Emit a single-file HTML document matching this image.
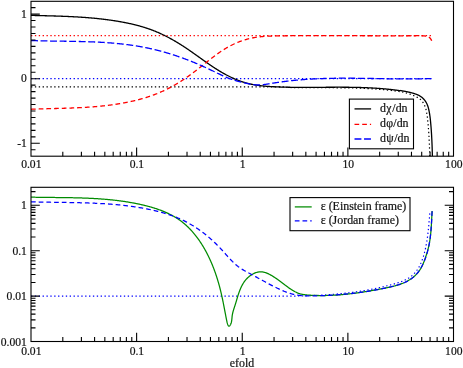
<!DOCTYPE html>
<html><head><meta charset="utf-8"><title>plot</title>
<style>html,body{margin:0;padding:0;background:#fff;}svg{display:block;}text{font-family:"Liberation Serif",serif;}</style></head>
<body>
<svg width="463" height="368" viewBox="0 0 463 368">
<rect width="100%" height="100%" fill="#fff"/>
<defs><clipPath id="ct"><rect x="31.0" y="1.3" width="422.5" height="154.89999999999998"/></clipPath><clipPath id="cb"><rect x="31.0" y="187.3" width="422.5" height="154.2"/></clipPath></defs>
<g clip-path="url(#ct)" fill="none" stroke-linejoin="round">
<path d="M31.0 35.63 H432.3" stroke="#f00" stroke-width="1.2" stroke-dasharray="1.35 2.52"/>
<path d="M31.0 78.70 H432.7" stroke="#00f" stroke-width="1.2" stroke-dasharray="1.35 2.52"/>
<path d="M31.00 86.90 L31.50 86.90 L32.00 86.90 L32.50 86.90 L33.00 86.90 L33.50 86.90 L34.00 86.90 L34.50 86.90 L35.00 86.90 L35.50 86.90 L36.00 86.90 L36.50 86.90 L37.00 86.90 L37.50 86.90 L38.00 86.90 L38.50 86.90 L39.00 86.90 L39.50 86.90 L40.00 86.90 L40.50 86.90 L41.00 86.90 L41.50 86.90 L42.00 86.90 L42.50 86.90 L43.00 86.90 L43.50 86.90 L44.00 86.90 L44.50 86.90 L45.00 86.90 L45.50 86.90 L46.00 86.90 L46.50 86.90 L47.00 86.90 L47.50 86.90 L48.00 86.90 L48.50 86.90 L49.00 86.90 L49.50 86.90 L50.00 86.90 L50.50 86.90 L51.00 86.90 L51.50 86.90 L52.00 86.90 L52.50 86.90 L53.00 86.90 L53.50 86.90 L54.00 86.90 L54.50 86.90 L55.00 86.90 L55.50 86.90 L56.00 86.90 L56.50 86.90 L57.00 86.90 L57.50 86.90 L58.00 86.90 L58.50 86.90 L59.00 86.90 L59.50 86.90 L60.00 86.90 L60.50 86.90 L61.00 86.90 L61.50 86.90 L62.00 86.90 L62.50 86.90 L63.00 86.90 L63.50 86.90 L64.00 86.90 L64.50 86.90 L65.00 86.90 L65.50 86.90 L66.00 86.90 L66.50 86.90 L67.00 86.90 L67.50 86.90 L68.00 86.90 L68.50 86.90 L69.00 86.90 L69.50 86.90 L70.00 86.90 L70.50 86.90 L71.00 86.90 L71.50 86.90 L72.00 86.90 L72.50 86.90 L73.00 86.90 L73.50 86.90 L74.00 86.90 L74.50 86.90 L75.00 86.90 L75.50 86.90 L76.00 86.90 L76.50 86.90 L77.00 86.90 L77.50 86.90 L78.00 86.90 L78.50 86.90 L79.00 86.90 L79.50 86.90 L80.00 86.90 L80.50 86.90 L81.00 86.90 L81.50 86.90 L82.00 86.90 L82.50 86.90 L83.00 86.90 L83.50 86.90 L84.00 86.90 L84.50 86.90 L85.00 86.90 L85.50 86.90 L86.00 86.90 L86.50 86.90 L87.00 86.90 L87.50 86.90 L88.00 86.90 L88.50 86.90 L89.00 86.90 L89.50 86.90 L90.00 86.90 L90.50 86.90 L91.00 86.90 L91.50 86.90 L92.00 86.90 L92.50 86.90 L93.00 86.90 L93.50 86.90 L94.00 86.90 L94.50 86.90 L95.00 86.90 L95.50 86.90 L96.00 86.90 L96.50 86.90 L97.00 86.90 L97.50 86.90 L98.00 86.90 L98.50 86.90 L99.00 86.90 L99.50 86.90 L100.00 86.90 L100.50 86.90 L101.00 86.90 L101.50 86.90 L102.00 86.90 L102.50 86.90 L103.00 86.90 L103.50 86.90 L104.00 86.90 L104.50 86.90 L105.00 86.90 L105.50 86.90 L106.00 86.90 L106.50 86.90 L107.00 86.90 L107.50 86.90 L108.00 86.90 L108.50 86.90 L109.00 86.90 L109.50 86.90 L110.00 86.90 L110.50 86.90 L111.00 86.90 L111.50 86.90 L112.00 86.90 L112.50 86.90 L113.00 86.90 L113.50 86.90 L114.00 86.90 L114.50 86.90 L115.00 86.90 L115.50 86.90 L116.00 86.90 L116.50 86.90 L117.00 86.90 L117.50 86.90 L118.00 86.90 L118.50 86.90 L119.00 86.90 L119.50 86.90 L120.00 86.90 L120.50 86.90 L121.00 86.90 L121.50 86.90 L122.00 86.90 L122.50 86.90 L123.00 86.90 L123.50 86.90 L124.00 86.90 L124.50 86.90 L125.00 86.90 L125.50 86.90 L126.00 86.90 L126.50 86.90 L127.00 86.90 L127.50 86.90 L128.00 86.90 L128.50 86.90 L129.00 86.90 L129.50 86.90 L130.00 86.90 L130.50 86.90 L131.00 86.90 L131.50 86.90 L132.00 86.90 L132.50 86.90 L133.00 86.90 L133.50 86.90 L134.00 86.90 L134.50 86.90 L135.00 86.90 L135.50 86.90 L136.00 86.90 L136.50 86.90 L137.00 86.90 L137.50 86.90 L138.00 86.90 L138.50 86.90 L139.00 86.90 L139.50 86.90 L140.00 86.90 L140.50 86.90 L141.00 86.90 L141.50 86.90 L142.00 86.90 L142.50 86.90 L143.00 86.90 L143.50 86.90 L144.00 86.90 L144.50 86.90 L145.00 86.90 L145.50 86.90 L146.00 86.90 L146.50 86.90 L147.00 86.90 L147.50 86.90 L148.00 86.90 L148.50 86.90 L149.00 86.90 L149.50 86.90 L150.00 86.90 L150.50 86.90 L151.00 86.90 L151.50 86.90 L152.00 86.90 L152.50 86.90 L153.00 86.90 L153.50 86.90 L154.00 86.90 L154.50 86.90 L155.00 86.90 L155.50 86.90 L156.00 86.90 L156.50 86.90 L157.00 86.90 L157.50 86.90 L158.00 86.90 L158.50 86.90 L159.00 86.90 L159.50 86.90 L160.00 86.90 L160.50 86.90 L161.00 86.90 L161.50 86.90 L162.00 86.90 L162.50 86.90 L163.00 86.90 L163.50 86.90 L164.00 86.90 L164.50 86.90 L165.00 86.90 L165.50 86.90 L166.00 86.90 L166.50 86.90 L167.00 86.90 L167.50 86.90 L168.00 86.90 L168.50 86.90 L169.00 86.90 L169.50 86.90 L170.00 86.90 L170.50 86.90 L171.00 86.90 L171.50 86.90 L172.00 86.90 L172.50 86.90 L173.00 86.90 L173.50 86.90 L174.00 86.90 L174.50 86.90 L175.00 86.90 L175.50 86.90 L176.00 86.90 L176.50 86.90 L177.00 86.90 L177.50 86.90 L178.00 86.90 L178.50 86.90 L179.00 86.90 L179.50 86.90 L180.00 86.90 L180.50 86.90 L181.00 86.90 L181.50 86.90 L182.00 86.90 L182.50 86.90 L183.00 86.90 L183.50 86.90 L184.00 86.90 L184.50 86.90 L185.00 86.90 L185.50 86.90 L186.00 86.90 L186.50 86.90 L187.00 86.90 L187.50 86.90 L188.00 86.90 L188.50 86.90 L189.00 86.90 L189.50 86.90 L190.00 86.90 L190.50 86.90 L191.00 86.90 L191.50 86.90 L192.00 86.90 L192.50 86.90 L193.00 86.90 L193.50 86.90 L194.00 86.90 L194.50 86.90 L195.00 86.90 L195.50 86.90 L196.00 86.90 L196.50 86.90 L197.00 86.90 L197.50 86.90 L198.00 86.90 L198.50 86.90 L199.00 86.90 L199.50 86.90 L200.00 86.90 L200.50 86.90 L201.00 86.90 L201.50 86.90 L202.00 86.90 L202.50 86.90 L203.00 86.90 L203.50 86.90 L204.00 86.90 L204.50 86.90 L205.00 86.90 L205.50 86.90 L206.00 86.90 L206.50 86.90 L207.00 86.90 L207.50 86.90 L208.00 86.90 L208.50 86.90 L209.00 86.90 L209.50 86.90 L210.00 86.90 L210.50 86.90 L211.00 86.90 L211.50 86.90 L212.00 86.90 L212.50 86.90 L213.00 86.90 L213.50 86.90 L214.00 86.90 L214.50 86.90 L215.00 86.90 L215.50 86.90 L216.00 86.90 L216.50 86.90 L217.00 86.90 L217.50 86.90 L218.00 86.90 L218.50 86.90 L219.00 86.90 L219.50 86.90 L220.00 86.90 L220.50 86.90 L221.00 86.90 L221.50 86.90 L222.00 86.90 L222.50 86.90 L223.00 86.90 L223.50 86.90 L224.00 86.90 L224.50 86.90 L225.00 86.90 L225.50 86.90 L226.00 86.90 L226.50 86.90 L227.00 86.90 L227.50 86.90 L228.00 86.90 L228.50 86.90 L229.00 86.90 L229.50 86.90 L230.00 86.90 L230.50 86.90 L231.00 86.90 L231.50 86.90 L232.00 86.90 L232.50 86.90 L233.00 86.90 L233.50 86.90 L234.00 86.90 L234.50 86.90 L235.00 86.90 L235.50 86.90 L236.00 86.90 L236.50 86.90 L237.00 86.90 L237.50 86.90 L238.00 86.90 L238.50 86.90 L239.00 86.90 L239.50 86.90 L240.00 86.90 L240.50 86.90 L241.00 86.90 L241.50 86.90 L242.00 86.90 L242.50 86.90 L243.00 86.90 L243.50 86.90 L244.00 86.90 L244.50 86.90 L245.00 86.90 L245.50 86.90 L246.00 86.90 L246.50 86.90 L247.00 86.90 L247.50 86.90 L248.00 86.90 L248.50 86.90 L249.00 86.90 L249.50 86.90 L250.00 86.90 L250.50 86.90 L251.00 86.90 L251.50 86.90 L252.00 86.90 L252.50 86.90 L253.00 86.90 L253.50 86.90 L254.00 86.90 L254.50 86.90 L255.00 86.90 L255.50 86.90 L256.00 86.90 L256.50 86.90 L257.00 86.90 L257.50 86.90 L258.00 86.90 L258.50 86.90 L259.00 86.90 L259.50 86.90 L260.00 86.90 L260.50 86.90 L261.00 86.90 L261.50 86.90 L262.00 86.90 L262.50 86.90 L263.00 86.90 L263.50 86.90 L264.00 86.90 L264.50 86.90 L265.00 86.90 L265.50 86.90 L266.00 86.90 L266.50 86.90 L267.00 86.90 L267.50 86.90 L268.00 86.90 L268.50 86.90 L269.00 86.90 L269.50 86.90 L270.00 86.90 L270.50 86.90 L271.00 86.90 L271.50 86.90 L272.00 86.90 L272.50 86.90 L273.00 86.90 L273.50 86.90 L274.00 86.90 L274.50 86.90 L275.00 86.90 L275.50 86.90 L276.00 86.90 L276.50 86.90 L277.00 86.90 L277.50 86.90 L278.00 86.90 L278.50 86.90 L279.00 86.90 L279.50 86.90 L280.00 86.90 L280.50 86.90 L281.00 86.90 L281.50 86.90 L282.00 86.90 L282.50 86.90 L283.00 86.90 L283.50 86.90 L284.00 86.90 L284.50 86.90 L285.00 87.36 L285.50 87.37 L286.00 87.39 L286.50 87.41 L287.00 87.42 L287.50 87.44 L288.00 87.45 L288.50 87.46 L289.00 87.48 L289.50 87.49 L290.00 87.50 L290.50 87.51 L291.00 87.53 L291.50 87.54 L292.00 87.55 L292.50 87.56 L293.00 87.57 L293.50 87.58 L294.00 87.59 L294.50 87.60 L295.00 87.61 L295.50 87.61 L296.00 87.62 L296.50 87.63 L297.00 87.64 L297.50 87.65 L298.00 87.65 L298.50 87.66 L299.00 87.67 L299.50 87.67 L300.00 87.68 L300.50 87.68 L301.00 87.69 L301.50 87.69 L302.00 87.70 L302.50 87.70 L303.00 87.71 L303.50 87.71 L304.00 87.72 L304.50 87.72 L305.00 87.72 L305.50 87.73 L306.00 87.73 L306.50 87.73 L307.00 87.73 L307.50 87.74 L308.00 87.74 L308.50 87.74 L309.00 87.74 L309.50 87.75 L310.00 87.75 L310.50 87.75 L311.00 87.75 L311.50 87.75 L312.00 87.75 L312.50 87.75 L313.00 87.75 L313.50 87.75 L314.00 87.76 L314.50 87.76 L315.00 87.76 L315.50 87.76 L316.00 87.76 L316.50 87.76 L317.00 87.76 L317.50 87.76 L318.00 87.76 L318.50 87.76 L319.00 87.76 L319.50 87.76 L320.00 87.76 L320.50 87.76 L321.00 87.76 L321.50 87.76 L322.00 87.76 L322.50 87.76 L323.00 87.76 L323.50 87.76 L324.00 87.76 L324.50 87.76 L325.00 87.76 L325.50 87.76 L326.00 87.76 L326.50 87.76 L327.00 87.76 L327.50 87.76 L328.00 87.76 L328.50 87.76 L329.00 87.76 L329.50 87.76 L330.00 87.76 L330.50 87.76 L331.00 87.76 L331.50 87.76 L332.00 87.76 L332.50 87.77 L333.00 87.77 L333.50 87.77 L334.00 87.77 L334.50 87.77 L335.00 87.77 L335.50 87.78 L336.00 87.78 L336.50 87.78 L337.00 87.78 L337.50 87.79 L338.00 87.79 L338.50 87.79 L339.00 87.80 L339.50 87.80 L340.00 87.80 L340.50 87.81 L341.00 87.81 L341.50 87.82 L342.00 87.82 L342.50 87.83 L343.00 87.83 L343.50 87.84 L344.00 87.84 L344.50 87.85 L345.00 87.85 L345.50 87.86 L346.00 87.87 L346.50 87.87 L347.00 87.88 L347.50 87.89 L348.00 87.90 L348.50 87.91 L349.00 87.92 L349.50 87.92 L350.00 87.93 L350.50 87.94 L351.00 87.95 L351.50 87.96 L352.00 87.98 L352.50 87.99 L353.00 88.00 L353.50 88.01 L354.00 88.02 L354.50 88.04 L355.00 88.05 L355.50 88.06 L356.00 88.08 L356.50 88.09 L357.00 88.11 L357.50 88.12 L358.00 88.14 L358.50 88.15 L359.00 88.17 L359.50 88.19 L360.00 88.21 L360.50 88.22 L361.00 88.24 L361.50 88.26 L362.00 88.28 L362.50 88.30 L363.00 88.32 L363.50 88.34 L364.00 88.36 L364.50 88.39 L365.00 88.41 L365.50 88.43 L366.00 88.45 L366.50 88.48 L367.00 88.50 L367.50 88.53 L368.00 88.55 L368.50 88.58 L369.00 88.61 L369.50 88.64 L370.00 88.66 L370.50 88.69 L371.00 88.72 L371.50 88.75 L372.00 88.78 L372.50 88.81 L373.00 88.85 L373.50 88.88 L374.00 88.91 L374.50 88.94 L375.00 88.98 L375.50 89.01 L376.00 89.05 L376.50 89.09 L377.00 89.12 L377.50 89.16 L378.00 89.20 L378.50 89.24 L379.00 89.28 L379.50 89.32 L380.00 89.36 L380.50 89.40 L381.00 89.44 L381.50 89.49 L382.00 89.53 L382.50 89.58 L383.00 89.62 L383.50 89.67 L384.00 89.71 L384.50 89.76 L385.00 89.81 L385.50 89.86 L386.00 89.91 L386.50 89.96 L387.00 90.01 L387.50 90.07 L388.00 90.12 L388.50 90.17 L389.00 90.23 L389.50 90.28 L390.00 90.34 L390.50 90.40 L391.00 90.46 L391.50 90.52 L392.00 90.58 L392.50 90.64 L393.00 90.70 L393.50 90.76 L394.00 90.83 L394.50 90.89 L395.00 90.95 L395.50 91.02 L396.00 91.09 L396.50 91.16 L397.00 91.23 L397.50 91.30 L398.00 91.37 L398.50 91.44 L399.00 91.51 L399.50 91.58 L400.00 91.66 L400.10 91.52 L400.35 91.57 L400.60 91.61 L400.85 91.66 L401.10 91.71 L401.35 91.76 L401.60 91.81 L401.85 91.87 L402.10 91.92 L402.35 91.98 L402.60 92.03 L402.85 92.09 L403.10 92.14 L403.35 92.20 L403.60 92.26 L403.85 92.32 L404.10 92.38 L404.35 92.45 L404.60 92.51 L404.85 92.57 L405.10 92.64 L405.35 92.70 L405.60 92.77 L405.85 92.84 L406.10 92.91 L406.35 92.98 L406.60 93.05 L406.85 93.12 L407.10 93.19 L407.35 93.27 L407.60 93.34 L407.85 93.42 L408.10 93.49 L408.35 93.57 L408.60 93.65 L408.85 93.73 L409.10 93.82 L409.35 93.90 L409.60 93.99 L409.85 94.07 L410.10 94.16 L410.35 94.26 L410.60 94.35 L410.85 94.44 L411.10 94.54 L411.35 94.64 L411.60 94.73 L411.85 94.84 L412.10 94.94 L412.35 95.04 L412.60 95.14 L412.85 95.25 L413.10 95.36 L413.35 95.47 L413.60 95.57 L413.85 95.69 L414.10 95.80 L414.35 95.91 L414.60 96.03 L414.85 96.14 L415.10 96.26 L415.35 96.38 L415.60 96.50 L415.85 96.61 L416.10 96.74 L416.35 96.86 L416.60 96.98 L416.85 97.11 L417.10 97.24 L417.35 97.37 L417.60 97.51 L417.85 97.65 L418.10 97.79 L418.35 97.95 L418.60 98.10 L418.85 98.27 L419.10 98.44 L419.35 98.61 L419.60 98.80 L419.85 98.99 L420.10 99.20 L420.35 99.42 L420.60 99.64 L420.85 99.88 L421.10 100.14 L421.35 100.40 L421.60 100.68 L421.85 100.97 L422.10 101.28 L422.35 101.60 L422.60 101.93 L422.85 102.28 L423.10 102.65 L423.35 103.04 L423.60 103.45 L423.85 103.89 L424.10 104.37 L424.35 104.88 L424.60 105.43 L424.85 106.02 L425.10 106.66 L425.35 107.35 L425.60 108.09 L425.85 108.91 L426.10 109.90 L426.35 111.05 L426.60 112.36 L426.85 113.81 L427.10 115.40 L427.35 117.21 L427.60 119.33 L427.85 121.73 L428.10 124.40 L428.35 127.29 L428.60 130.47 L428.85 134.13 L429.10 138.38 L429.35 143.39 L429.60 150.00 L429.80 156.20" stroke="#000" stroke-width="1.2" stroke-dasharray="1.35 2.52"/>
<path d="M31.00 15.38 L31.50 15.39 L32.00 15.40 L32.50 15.42 L33.00 15.43 L33.50 15.44 L34.00 15.45 L34.50 15.47 L35.00 15.48 L35.50 15.49 L36.00 15.50 L36.50 15.52 L37.00 15.53 L37.50 15.54 L38.00 15.55 L38.50 15.57 L39.00 15.58 L39.50 15.59 L40.00 15.60 L40.50 15.62 L41.00 15.63 L41.50 15.64 L42.00 15.65 L42.50 15.67 L43.00 15.68 L43.50 15.69 L44.00 15.70 L44.50 15.72 L45.00 15.73 L45.50 15.74 L46.00 15.76 L46.50 15.77 L47.00 15.78 L47.50 15.80 L48.00 15.81 L48.50 15.82 L49.00 15.84 L49.50 15.85 L50.00 15.86 L50.50 15.88 L51.00 15.89 L51.50 15.91 L52.00 15.92 L52.50 15.93 L53.00 15.95 L53.50 15.96 L54.00 15.98 L54.50 15.99 L55.00 16.01 L55.50 16.02 L56.00 16.04 L56.50 16.06 L57.00 16.07 L57.50 16.09 L58.00 16.10 L58.50 16.12 L59.00 16.14 L59.50 16.16 L60.00 16.17 L60.50 16.19 L61.00 16.21 L61.50 16.23 L62.00 16.24 L62.50 16.26 L63.00 16.28 L63.50 16.30 L64.00 16.32 L64.50 16.34 L65.00 16.36 L65.50 16.38 L66.00 16.40 L66.50 16.42 L67.00 16.44 L67.50 16.47 L68.00 16.49 L68.50 16.51 L69.00 16.53 L69.50 16.56 L70.00 16.58 L70.50 16.60 L71.00 16.63 L71.50 16.65 L72.00 16.68 L72.50 16.70 L73.00 16.73 L73.50 16.75 L74.00 16.78 L74.50 16.81 L75.00 16.83 L75.50 16.86 L76.00 16.89 L76.50 16.92 L77.00 16.95 L77.50 16.97 L78.00 17.00 L78.50 17.03 L79.00 17.07 L79.50 17.10 L80.00 17.13 L80.50 17.16 L81.00 17.19 L81.50 17.23 L82.00 17.26 L82.50 17.29 L83.00 17.33 L83.50 17.36 L84.00 17.40 L84.50 17.43 L85.00 17.47 L85.50 17.51 L86.00 17.54 L86.50 17.58 L87.00 17.62 L87.50 17.66 L88.00 17.70 L88.50 17.74 L89.00 17.78 L89.50 17.82 L90.00 17.86 L90.50 17.91 L91.00 17.95 L91.50 17.99 L92.00 18.04 L92.50 18.08 L93.00 18.13 L93.50 18.18 L94.00 18.22 L94.50 18.27 L95.00 18.32 L95.50 18.37 L96.00 18.42 L96.50 18.47 L97.00 18.52 L97.50 18.57 L98.00 18.62 L98.50 18.67 L99.00 18.73 L99.50 18.78 L100.00 18.84 L100.50 18.89 L101.00 18.95 L101.50 19.00 L102.00 19.06 L102.50 19.12 L103.00 19.18 L103.50 19.24 L104.00 19.30 L104.50 19.36 L105.00 19.42 L105.50 19.49 L106.00 19.55 L106.50 19.61 L107.00 19.68 L107.50 19.74 L108.00 19.81 L108.50 19.88 L109.00 19.95 L109.50 20.02 L110.00 20.09 L110.50 20.16 L111.00 20.23 L111.50 20.30 L112.00 20.37 L112.50 20.45 L113.00 20.52 L113.50 20.60 L114.00 20.67 L114.50 20.75 L115.00 20.83 L115.50 20.91 L116.00 20.99 L116.50 21.07 L117.00 21.15 L117.50 21.23 L118.00 21.32 L118.50 21.40 L119.00 21.49 L119.50 21.57 L120.00 21.66 L120.50 21.75 L121.00 21.84 L121.50 21.93 L122.00 22.02 L122.50 22.11 L123.00 22.20 L123.50 22.30 L124.00 22.39 L124.50 22.49 L125.00 22.59 L125.50 22.69 L126.00 22.79 L126.50 22.89 L127.00 22.99 L127.50 23.09 L128.00 23.20 L128.50 23.30 L129.00 23.41 L129.50 23.52 L130.00 23.63 L130.50 23.74 L131.00 23.85 L131.50 23.96 L132.00 24.08 L132.50 24.19 L133.00 24.31 L133.50 24.43 L134.00 24.55 L134.50 24.67 L135.00 24.80 L135.50 24.92 L136.00 25.05 L136.50 25.18 L137.00 25.31 L137.50 25.44 L138.00 25.57 L138.50 25.71 L139.00 25.84 L139.50 25.98 L140.00 26.12 L140.50 26.26 L141.00 26.41 L141.50 26.55 L142.00 26.70 L142.50 26.85 L143.00 27.00 L143.50 27.15 L144.00 27.30 L144.50 27.46 L145.00 27.62 L145.50 27.78 L146.00 27.94 L146.50 28.10 L147.00 28.27 L147.50 28.43 L148.00 28.60 L148.50 28.78 L149.00 28.95 L149.50 29.13 L150.00 29.30 L150.50 29.48 L151.00 29.67 L151.50 29.85 L152.00 30.04 L152.50 30.23 L153.00 30.42 L153.50 30.61 L154.00 30.81 L154.50 31.00 L155.00 31.20 L155.50 31.41 L156.00 31.61 L156.50 31.82 L157.00 32.03 L157.50 32.24 L158.00 32.45 L158.50 32.67 L159.00 32.89 L159.50 33.11 L160.00 33.33 L160.50 33.56 L161.00 33.79 L161.50 34.02 L162.00 34.26 L162.50 34.49 L163.00 34.73 L163.50 34.97 L164.00 35.21 L164.50 35.46 L165.00 35.71 L165.50 35.96 L166.00 36.21 L166.50 36.47 L167.00 36.72 L167.50 36.98 L168.00 37.25 L168.50 37.51 L169.00 37.78 L169.50 38.04 L170.00 38.31 L170.50 38.59 L171.00 38.86 L171.50 39.14 L172.00 39.42 L172.50 39.70 L173.00 39.98 L173.50 40.27 L174.00 40.56 L174.50 40.85 L175.00 41.14 L175.50 41.43 L176.00 41.73 L176.50 42.03 L177.00 42.33 L177.50 42.63 L178.00 42.93 L178.50 43.24 L179.00 43.54 L179.50 43.85 L180.00 44.16 L180.50 44.48 L181.00 44.79 L181.50 45.11 L182.00 45.43 L182.50 45.75 L183.00 46.07 L183.50 46.40 L184.00 46.72 L184.50 47.05 L185.00 47.38 L185.50 47.71 L186.00 48.04 L186.50 48.38 L187.00 48.71 L187.50 49.05 L188.00 49.39 L188.50 49.73 L189.00 50.07 L189.50 50.42 L190.00 50.76 L190.50 51.11 L191.00 51.45 L191.50 51.80 L192.00 52.15 L192.50 52.50 L193.00 52.85 L193.50 53.20 L194.00 53.55 L194.50 53.91 L195.00 54.26 L195.50 54.62 L196.00 54.97 L196.50 55.33 L197.00 55.68 L197.50 56.04 L198.00 56.40 L198.50 56.75 L199.00 57.11 L199.50 57.47 L200.00 57.83 L200.50 58.18 L201.00 58.54 L201.50 58.90 L202.00 59.25 L202.50 59.61 L203.00 59.97 L203.50 60.32 L204.00 60.68 L204.50 61.03 L205.00 61.39 L205.50 61.74 L206.00 62.09 L206.50 62.44 L207.00 62.79 L207.50 63.14 L208.00 63.49 L208.50 63.84 L209.00 64.18 L209.50 64.53 L210.00 64.87 L210.50 65.21 L211.00 65.55 L211.50 65.89 L212.00 66.23 L212.50 66.56 L213.00 66.89 L213.50 67.23 L214.00 67.55 L214.50 67.88 L215.00 68.21 L215.50 68.53 L216.00 68.85 L216.50 69.17 L217.00 69.49 L217.50 69.80 L218.00 70.11 L218.50 70.42 L219.00 70.72 L219.50 71.03 L220.00 71.33 L220.50 71.63 L221.00 71.92 L221.50 72.21 L222.00 72.50 L222.50 72.79 L223.00 73.08 L223.50 73.36 L224.00 73.64 L224.50 73.91 L225.00 74.19 L225.50 74.46 L226.00 74.73 L226.50 74.99 L227.00 75.25 L227.50 75.51 L228.00 75.77 L228.50 76.02 L229.00 76.27 L229.50 76.52 L230.00 76.77 L230.50 77.01 L231.00 77.25 L231.50 77.48 L232.00 77.72 L232.50 77.95 L233.00 78.17 L233.50 78.40 L234.00 78.62 L234.50 78.83 L235.00 79.05 L235.50 79.26 L236.00 79.47 L236.50 79.67 L237.00 79.87 L237.50 80.07 L238.00 80.26 L238.50 80.46 L239.00 80.64 L239.50 80.83 L240.00 81.01 L240.50 81.19 L241.00 81.36 L241.50 81.53 L242.00 81.70 L242.50 81.87 L243.00 82.03 L243.50 82.18 L244.00 82.34 L244.50 82.49 L245.00 82.64 L245.50 82.78 L246.00 82.92 L246.50 83.06 L247.00 83.19 L247.50 83.32 L248.00 83.45 L248.50 83.57 L249.00 83.69 L249.50 83.81 L250.00 83.92 L250.50 84.03 L251.00 84.14 L251.50 84.25 L252.00 84.35 L252.50 84.45 L253.00 84.54 L253.50 84.64 L254.00 84.73 L254.50 84.82 L255.00 84.90 L255.50 84.99 L256.00 85.07 L256.50 85.15 L257.00 85.22 L257.50 85.30 L258.00 85.37 L258.50 85.44 L259.00 85.50 L259.50 85.57 L260.00 85.63 L260.50 85.69 L261.00 85.75 L261.50 85.81 L262.00 85.86 L262.50 85.92 L263.00 85.97 L263.50 86.02 L264.00 86.07 L264.50 86.11 L265.00 86.16 L265.50 86.20 L266.00 86.24 L266.50 86.28 L267.00 86.32 L267.50 86.36 L268.00 86.40 L268.50 86.43 L269.00 86.46 L269.50 86.50 L270.00 86.53 L270.50 86.56 L271.00 86.59 L271.50 86.62 L272.00 86.65 L272.50 86.67 L273.00 86.70 L273.50 86.73 L274.00 86.75 L274.50 86.77 L275.00 86.80 L275.50 86.82 L276.00 86.84 L276.50 86.87 L277.00 86.89 L277.50 86.91 L278.00 86.93 L278.50 86.95 L279.00 86.97 L279.50 86.99 L280.00 87.00 L280.50 87.02 L281.00 87.04 L281.50 87.05 L282.00 87.07 L282.50 87.09 L283.00 87.10 L283.50 87.12 L284.00 87.13 L284.50 87.14 L285.00 87.16 L285.50 87.17 L286.00 87.18 L286.50 87.20 L287.00 87.21 L287.50 87.22 L288.00 87.23 L288.50 87.24 L289.00 87.25 L289.50 87.26 L290.00 87.27 L290.50 87.28 L291.00 87.28 L291.50 87.29 L292.00 87.30 L292.50 87.31 L293.00 87.31 L293.50 87.32 L294.00 87.33 L294.50 87.33 L295.00 87.34 L295.50 87.34 L296.00 87.35 L296.50 87.35 L297.00 87.36 L297.50 87.36 L298.00 87.36 L298.50 87.37 L299.00 87.37 L299.50 87.37 L300.00 87.37 L300.50 87.38 L301.00 87.38 L301.50 87.38 L302.00 87.38 L302.50 87.38 L303.00 87.38 L303.50 87.38 L304.00 87.38 L304.50 87.38 L305.00 87.38 L305.50 87.38 L306.00 87.38 L306.50 87.38 L307.00 87.38 L307.50 87.38 L308.00 87.38 L308.50 87.38 L309.00 87.38 L309.50 87.37 L310.00 87.37 L310.50 87.37 L311.00 87.37 L311.50 87.37 L312.00 87.36 L312.50 87.36 L313.00 87.36 L313.50 87.36 L314.00 87.35 L314.50 87.35 L315.00 87.35 L315.50 87.34 L316.00 87.34 L316.50 87.34 L317.00 87.34 L317.50 87.33 L318.00 87.33 L318.50 87.33 L319.00 87.32 L319.50 87.32 L320.00 87.31 L320.50 87.31 L321.00 87.31 L321.50 87.30 L322.00 87.30 L322.50 87.30 L323.00 87.29 L323.50 87.29 L324.00 87.29 L324.50 87.28 L325.00 87.28 L325.50 87.28 L326.00 87.27 L326.50 87.27 L327.00 87.27 L327.50 87.26 L328.00 87.26 L328.50 87.26 L329.00 87.25 L329.50 87.25 L330.00 87.25 L330.50 87.24 L331.00 87.24 L331.50 87.24 L332.00 87.24 L332.50 87.23 L333.00 87.23 L333.50 87.23 L334.00 87.23 L334.50 87.23 L335.00 87.23 L335.50 87.22 L336.00 87.22 L336.50 87.22 L337.00 87.22 L337.50 87.22 L338.00 87.22 L338.50 87.22 L339.00 87.22 L339.50 87.22 L340.00 87.22 L340.50 87.22 L341.00 87.22 L341.50 87.22 L342.00 87.22 L342.50 87.23 L343.00 87.23 L343.50 87.23 L344.00 87.23 L344.50 87.23 L345.00 87.24 L345.50 87.24 L346.00 87.24 L346.50 87.25 L347.00 87.25 L347.50 87.26 L348.00 87.26 L348.50 87.27 L349.00 87.27 L349.50 87.28 L350.00 87.28 L350.50 87.29 L351.00 87.30 L351.50 87.30 L352.00 87.31 L352.50 87.32 L353.00 87.33 L353.50 87.33 L354.00 87.34 L354.50 87.35 L355.00 87.36 L355.50 87.37 L356.00 87.38 L356.50 87.39 L357.00 87.41 L357.50 87.42 L358.00 87.43 L358.50 87.44 L359.00 87.46 L359.50 87.47 L360.00 87.48 L360.50 87.50 L361.00 87.51 L361.50 87.53 L362.00 87.54 L362.50 87.56 L363.00 87.58 L363.50 87.60 L364.00 87.61 L364.50 87.63 L365.00 87.65 L365.50 87.67 L366.00 87.69 L366.50 87.71 L367.00 87.73 L367.50 87.75 L368.00 87.78 L368.50 87.80 L369.00 87.82 L369.50 87.85 L370.00 87.87 L370.50 87.90 L371.00 87.92 L371.50 87.95 L372.00 87.98 L372.50 88.00 L373.00 88.03 L373.50 88.06 L374.00 88.09 L374.50 88.12 L375.00 88.15 L375.50 88.18 L376.00 88.22 L376.50 88.25 L377.00 88.28 L377.50 88.32 L378.00 88.35 L378.50 88.39 L379.00 88.42 L379.50 88.46 L380.00 88.50 L380.50 88.54 L381.00 88.58 L381.50 88.62 L382.00 88.66 L382.50 88.70 L383.00 88.74 L383.50 88.78 L384.00 88.83 L384.50 88.87 L385.00 88.92 L385.50 88.96 L386.00 89.01 L386.50 89.06 L387.00 89.10 L387.50 89.15 L388.00 89.20 L388.50 89.25 L389.00 89.31 L389.50 89.36 L390.00 89.41 L390.50 89.46 L391.00 89.52 L391.50 89.58 L392.00 89.63 L392.50 89.69 L393.00 89.75 L393.50 89.81 L394.00 89.87 L394.50 89.93 L395.00 89.99 L395.50 90.05 L396.00 90.12 L396.50 90.18 L397.00 90.25 L397.50 90.31 L398.00 90.38 L398.50 90.45 L399.00 90.52 L399.50 90.59 L400.00 90.66 L400.10 90.51 L400.35 90.55 L400.60 90.59 L400.85 90.62 L401.10 90.66 L401.35 90.70 L401.60 90.74 L401.85 90.78 L402.10 90.82 L402.35 90.86 L402.60 90.90 L402.85 90.94 L403.10 90.98 L403.35 91.03 L403.60 91.07 L403.85 91.12 L404.10 91.16 L404.35 91.21 L404.60 91.26 L404.85 91.30 L405.10 91.35 L405.35 91.40 L405.60 91.45 L405.85 91.50 L406.10 91.55 L406.35 91.60 L406.60 91.65 L406.85 91.70 L407.10 91.75 L407.35 91.80 L407.60 91.86 L407.85 91.91 L408.10 91.96 L408.35 92.02 L408.60 92.07 L408.85 92.13 L409.10 92.19 L409.35 92.24 L409.60 92.30 L409.85 92.36 L410.10 92.42 L410.35 92.48 L410.60 92.54 L410.85 92.61 L411.10 92.67 L411.35 92.74 L411.60 92.80 L411.85 92.87 L412.10 92.94 L412.35 93.01 L412.60 93.08 L412.85 93.15 L413.10 93.22 L413.35 93.30 L413.60 93.37 L413.85 93.45 L414.10 93.53 L414.35 93.61 L414.60 93.69 L414.85 93.78 L415.10 93.86 L415.35 93.95 L415.60 94.03 L415.85 94.12 L416.10 94.22 L416.35 94.31 L416.60 94.41 L416.85 94.51 L417.10 94.61 L417.35 94.71 L417.60 94.82 L417.85 94.93 L418.10 95.05 L418.35 95.16 L418.60 95.28 L418.85 95.41 L419.10 95.54 L419.35 95.67 L419.60 95.81 L419.85 95.96 L420.10 96.11 L420.35 96.26 L420.60 96.43 L420.85 96.60 L421.10 96.77 L421.35 96.96 L421.60 97.15 L421.85 97.35 L422.10 97.56 L422.35 97.77 L422.60 98.00 L422.85 98.23 L423.10 98.47 L423.35 98.72 L423.60 98.98 L423.85 99.25 L424.10 99.52 L424.35 99.81 L424.60 100.11 L424.85 100.43 L425.10 100.77 L425.35 101.13 L425.60 101.50 L425.85 101.90 L426.10 102.33 L426.35 102.78 L426.60 103.26 L426.85 103.77 L427.10 104.31 L427.35 104.89 L427.60 105.50 L427.85 106.19 L428.10 106.98 L428.35 107.88 L428.60 108.88 L428.85 110.00 L429.10 111.22 L429.35 112.55 L429.60 113.98 L429.85 115.52 L430.10 117.35 L430.35 119.54 L430.60 122.05 L430.85 124.84 L431.10 127.90 L431.35 131.33 L431.60 135.37 L431.85 140.18 L432.10 146.12 L432.35 154.40 L432.40 156.20" stroke="#000" stroke-width="1.3"/>
<path d="M31.00 109.27 L31.50 109.24 L32.00 109.22 L32.50 109.20 L33.00 109.18 L33.50 109.17 L34.00 109.15 L34.50 109.13 L35.00 109.11 L35.50 109.09 L36.00 109.07 L36.50 109.06 L37.00 109.04 L37.50 109.02 L38.00 109.00 L38.50 108.99 L39.00 108.97 L39.50 108.95 L40.00 108.94 L40.50 108.92 L41.00 108.91 L41.50 108.89 L42.00 108.88 L42.50 108.86 L43.00 108.85 L43.50 108.83 L44.00 108.82 L44.50 108.80 L45.00 108.79 L45.50 108.77 L46.00 108.76 L46.50 108.75 L47.00 108.73 L47.50 108.72 L48.00 108.70 L48.50 108.69 L49.00 108.68 L49.50 108.66 L50.00 108.65 L50.50 108.64 L51.00 108.62 L51.50 108.61 L52.00 108.60 L52.50 108.58 L53.00 108.57 L53.50 108.56 L54.00 108.54 L54.50 108.53 L55.00 108.52 L55.50 108.50 L56.00 108.49 L56.50 108.48 L57.00 108.46 L57.50 108.45 L58.00 108.44 L58.50 108.42 L59.00 108.41 L59.50 108.39 L60.00 108.38 L60.50 108.37 L61.00 108.35 L61.50 108.34 L62.00 108.32 L62.50 108.31 L63.00 108.29 L63.50 108.28 L64.00 108.26 L64.50 108.25 L65.00 108.23 L65.50 108.22 L66.00 108.20 L66.50 108.19 L67.00 108.17 L67.50 108.15 L68.00 108.14 L68.50 108.12 L69.00 108.10 L69.50 108.08 L70.00 108.07 L70.50 108.05 L71.00 108.03 L71.50 108.01 L72.00 107.99 L72.50 107.97 L73.00 107.95 L73.50 107.93 L74.00 107.91 L74.50 107.89 L75.00 107.87 L75.50 107.85 L76.00 107.83 L76.50 107.81 L77.00 107.78 L77.50 107.76 L78.00 107.74 L78.50 107.72 L79.00 107.69 L79.50 107.67 L80.00 107.64 L80.50 107.62 L81.00 107.59 L81.50 107.57 L82.00 107.54 L82.50 107.51 L83.00 107.48 L83.50 107.46 L84.00 107.43 L84.50 107.40 L85.00 107.37 L85.50 107.34 L86.00 107.31 L86.50 107.28 L87.00 107.25 L87.50 107.22 L88.00 107.18 L88.50 107.15 L89.00 107.12 L89.50 107.08 L90.00 107.05 L90.50 107.01 L91.00 106.98 L91.50 106.94 L92.00 106.90 L92.50 106.86 L93.00 106.83 L93.50 106.79 L94.00 106.75 L94.50 106.71 L95.00 106.66 L95.50 106.62 L96.00 106.58 L96.50 106.54 L97.00 106.49 L97.50 106.45 L98.00 106.40 L98.50 106.36 L99.00 106.31 L99.50 106.26 L100.00 106.22 L100.50 106.17 L101.00 106.12 L101.50 106.07 L102.00 106.02 L102.50 105.96 L103.00 105.91 L103.50 105.86 L104.00 105.80 L104.50 105.75 L105.00 105.69 L105.50 105.64 L106.00 105.58 L106.50 105.52 L107.00 105.46 L107.50 105.40 L108.00 105.34 L108.50 105.28 L109.00 105.21 L109.50 105.15 L110.00 105.09 L110.50 105.02 L111.00 104.95 L111.50 104.89 L112.00 104.82 L112.50 104.75 L113.00 104.68 L113.50 104.61 L114.00 104.54 L114.50 104.46 L115.00 104.39 L115.50 104.31 L116.00 104.24 L116.50 104.16 L117.00 104.08 L117.50 104.00 L118.00 103.92 L118.50 103.84 L119.00 103.76 L119.50 103.68 L120.00 103.59 L120.50 103.51 L121.00 103.42 L121.50 103.33 L122.00 103.25 L122.50 103.16 L123.00 103.06 L123.50 102.97 L124.00 102.88 L124.50 102.79 L125.00 102.69 L125.50 102.59 L126.00 102.50 L126.50 102.40 L127.00 102.30 L127.50 102.20 L128.00 102.09 L128.50 101.99 L129.00 101.89 L129.50 101.78 L130.00 101.67 L130.50 101.57 L131.00 101.46 L131.50 101.35 L132.00 101.23 L132.50 101.12 L133.00 101.01 L133.50 100.89 L134.00 100.77 L134.50 100.65 L135.00 100.53 L135.50 100.41 L136.00 100.29 L136.50 100.16 L137.00 100.04 L137.50 99.91 L138.00 99.78 L138.50 99.65 L139.00 99.52 L139.50 99.39 L140.00 99.25 L140.50 99.12 L141.00 98.98 L141.50 98.84 L142.00 98.70 L142.50 98.55 L143.00 98.41 L143.50 98.26 L144.00 98.11 L144.50 97.97 L145.00 97.81 L145.50 97.66 L146.00 97.51 L146.50 97.35 L147.00 97.19 L147.50 97.03 L148.00 96.87 L148.50 96.70 L149.00 96.54 L149.50 96.37 L150.00 96.20 L150.50 96.03 L151.00 95.85 L151.50 95.68 L152.00 95.50 L152.50 95.32 L153.00 95.14 L153.50 94.95 L154.00 94.77 L154.50 94.58 L155.00 94.39 L155.50 94.20 L156.00 94.00 L156.50 93.80 L157.00 93.61 L157.50 93.40 L158.00 93.20 L158.50 93.00 L159.00 92.79 L159.50 92.58 L160.00 92.37 L160.50 92.15 L161.00 91.93 L161.50 91.72 L162.00 91.49 L162.50 91.27 L163.00 91.04 L163.50 90.81 L164.00 90.58 L164.50 90.35 L165.00 90.11 L165.50 89.87 L166.00 89.63 L166.50 89.39 L167.00 89.14 L167.50 88.89 L168.00 88.64 L168.50 88.39 L169.00 88.13 L169.50 87.87 L170.00 87.61 L170.50 87.35 L171.00 87.08 L171.50 86.81 L172.00 86.54 L172.50 86.26 L173.00 85.98 L173.50 85.70 L174.00 85.42 L174.50 85.13 L175.00 84.85 L175.50 84.55 L176.00 84.26 L176.50 83.96 L177.00 83.66 L177.50 83.36 L178.00 83.06 L178.50 82.75 L179.00 82.44 L179.50 82.13 L180.00 81.81 L180.50 81.50 L181.00 81.18 L181.50 80.85 L182.00 80.53 L182.50 80.20 L183.00 79.87 L183.50 79.54 L184.00 79.21 L184.50 78.87 L185.00 78.53 L185.50 78.19 L186.00 77.85 L186.50 77.50 L187.00 77.16 L187.50 76.81 L188.00 76.45 L188.50 76.10 L189.00 75.74 L189.50 75.38 L190.00 75.02 L190.50 74.66 L191.00 74.29 L191.50 73.93 L192.00 73.56 L192.50 73.19 L193.00 72.81 L193.50 72.44 L194.00 72.06 L194.50 71.68 L195.00 71.30 L195.50 70.92 L196.00 70.53 L196.50 70.15 L197.00 69.76 L197.50 69.37 L198.00 68.98 L198.50 68.59 L199.00 68.20 L199.50 67.80 L200.00 67.41 L200.50 67.01 L201.00 66.62 L201.50 66.22 L202.00 65.82 L202.50 65.43 L203.00 65.03 L203.50 64.63 L204.00 64.23 L204.50 63.84 L205.00 63.44 L205.50 63.04 L206.00 62.64 L206.50 62.25 L207.00 61.85 L207.50 61.46 L208.00 61.06 L208.50 60.67 L209.00 60.27 L209.50 59.88 L210.00 59.49 L210.50 59.10 L211.00 58.71 L211.50 58.33 L212.00 57.94 L212.50 57.56 L213.00 57.18 L213.50 56.80 L214.00 56.42 L214.50 56.04 L215.00 55.67 L215.50 55.30 L216.00 54.93 L216.50 54.56 L217.00 54.20 L217.50 53.84 L218.00 53.48 L218.50 53.13 L219.00 52.77 L219.50 52.43 L220.00 52.08 L220.50 51.74 L221.00 51.40 L221.50 51.06 L222.00 50.73 L222.50 50.41 L223.00 50.08 L223.50 49.76 L224.00 49.45 L224.50 49.13 L225.00 48.83 L225.50 48.52 L226.00 48.22 L226.50 47.93 L227.00 47.64 L227.50 47.35 L228.00 47.07 L228.50 46.79 L229.00 46.52 L229.50 46.25 L230.00 45.98 L230.50 45.72 L231.00 45.46 L231.50 45.21 L232.00 44.96 L232.50 44.71 L233.00 44.47 L233.50 44.23 L234.00 44.00 L234.50 43.77 L235.00 43.54 L235.50 43.32 L236.00 43.10 L236.50 42.88 L237.00 42.67 L237.50 42.46 L238.00 42.26 L238.50 42.06 L239.00 41.87 L239.50 41.67 L240.00 41.48 L240.50 41.30 L241.00 41.12 L241.50 40.94 L242.00 40.77 L242.50 40.60 L243.00 40.43 L243.50 40.27 L244.00 40.11 L244.50 39.95 L245.00 39.80 L245.50 39.65 L246.00 39.51 L246.50 39.36 L247.00 39.23 L247.50 39.09 L248.00 38.96 L248.50 38.83 L249.00 38.71 L249.50 38.59 L250.00 38.47 L250.50 38.36 L251.00 38.24 L251.50 38.14 L252.00 38.03 L252.50 37.93 L253.00 37.83 L253.50 37.74 L254.00 37.65 L254.50 37.56 L255.00 37.48 L255.50 37.39 L256.00 37.32 L256.50 37.24 L257.00 37.17 L257.50 37.10 L258.00 37.03 L258.50 36.96 L259.00 36.90 L259.50 36.84 L260.00 36.79 L260.50 36.73 L261.00 36.68 L261.50 36.63 L262.00 36.58 L262.50 36.53 L263.00 36.49 L263.50 36.45 L264.00 36.41 L264.50 36.37 L265.00 36.34 L265.50 36.30 L266.00 36.27 L266.50 36.24 L267.00 36.21 L267.50 36.19 L268.00 36.16 L268.50 36.14 L269.00 36.11 L269.50 36.09 L270.00 36.07 L270.50 36.05 L271.00 36.04 L271.50 36.02 L272.00 36.00 L272.50 35.99 L273.00 35.97 L273.50 35.96 L274.00 35.95 L274.50 35.94 L275.00 35.93 L275.50 35.92 L276.00 35.91 L276.50 35.90 L277.00 35.89 L277.50 35.88 L278.00 35.87 L278.50 35.87 L279.00 35.86 L279.50 35.85 L280.00 35.85 L280.50 35.84 L281.00 35.83 L281.50 35.82 L282.00 35.82 L282.50 35.81 L283.00 35.80 L283.50 35.80 L284.00 35.79 L284.50 35.79 L285.00 35.78 L285.50 35.77 L286.00 35.77 L286.50 35.76 L287.00 35.76 L287.50 35.75 L288.00 35.75 L288.50 35.74 L289.00 35.74 L289.50 35.73 L290.00 35.73 L290.50 35.72 L291.00 35.72 L291.50 35.71 L292.00 35.71 L292.50 35.70 L293.00 35.70 L293.50 35.69 L294.00 35.69 L294.50 35.69 L295.00 35.68 L295.50 35.68 L296.00 35.67 L296.50 35.67 L297.00 35.67 L297.50 35.66 L298.00 35.66 L298.50 35.66 L299.00 35.65 L299.50 35.65 L300.00 35.65 L300.50 35.65 L301.00 35.64 L301.50 35.64 L302.00 35.64 L302.50 35.63 L303.00 35.63 L303.50 35.63 L304.00 35.63 L304.50 35.63 L305.00 35.62 L305.50 35.62 L306.00 35.62 L306.50 35.62 L307.00 35.62 L307.50 35.61 L308.00 35.61 L308.50 35.61 L309.00 35.61 L309.50 35.61 L310.00 35.61 L310.50 35.61 L311.00 35.60 L311.50 35.60 L312.00 35.60 L312.50 35.60 L313.00 35.60 L313.50 35.60 L314.00 35.60 L314.50 35.60 L315.00 35.60 L315.50 35.60 L316.00 35.60 L316.50 35.60 L317.00 35.60 L317.50 35.60 L318.00 35.60 L318.50 35.60 L319.00 35.60 L319.50 35.60 L320.00 35.60 L320.50 35.60 L321.00 35.60 L321.50 35.60 L322.00 35.60 L322.50 35.60 L323.00 35.60 L323.50 35.60 L324.00 35.60 L324.50 35.60 L325.00 35.60 L325.50 35.60 L326.00 35.60 L326.50 35.60 L327.00 35.60 L327.50 35.60 L328.00 35.60 L328.50 35.60 L329.00 35.60 L329.50 35.61 L330.00 35.61 L330.50 35.61 L331.00 35.61 L331.50 35.61 L332.00 35.61 L332.50 35.61 L333.00 35.61 L333.50 35.62 L334.00 35.62 L334.50 35.62 L335.00 35.62 L335.50 35.62 L336.00 35.62 L336.50 35.62 L337.00 35.63 L337.50 35.63 L338.00 35.63 L338.50 35.63 L339.00 35.63 L339.50 35.63 L340.00 35.64 L340.50 35.64 L341.00 35.64 L341.50 35.64 L342.00 35.64 L342.50 35.64 L343.00 35.65 L343.50 35.65 L344.00 35.65 L344.50 35.65 L345.00 35.65 L345.50 35.66 L346.00 35.66 L346.50 35.66 L347.00 35.66 L347.50 35.66 L348.00 35.67 L348.50 35.67 L349.00 35.67 L349.50 35.67 L350.00 35.67 L350.50 35.68 L351.00 35.68 L351.50 35.68 L352.00 35.68 L352.50 35.68 L353.00 35.69 L353.50 35.69 L354.00 35.69 L354.50 35.69 L355.00 35.69 L355.50 35.70 L356.00 35.70 L356.50 35.70 L357.00 35.70 L357.50 35.71 L358.00 35.71 L358.50 35.71 L359.00 35.71 L359.50 35.71 L360.00 35.72 L360.50 35.72 L361.00 35.72 L361.50 35.72 L362.00 35.72 L362.50 35.73 L363.00 35.73 L363.50 35.73 L364.00 35.73 L364.50 35.74 L365.00 35.74 L365.50 35.74 L366.00 35.74 L366.50 35.74 L367.00 35.75 L367.50 35.75 L368.00 35.75 L368.50 35.75 L369.00 35.75 L369.50 35.75 L370.00 35.76 L370.50 35.76 L371.00 35.76 L371.50 35.76 L372.00 35.76 L372.50 35.77 L373.00 35.77 L373.50 35.77 L374.00 35.77 L374.50 35.77 L375.00 35.77 L375.50 35.78 L376.00 35.78 L376.50 35.78 L377.00 35.78 L377.50 35.78 L378.00 35.78 L378.50 35.78 L379.00 35.79 L379.50 35.79 L380.00 35.79 L380.50 35.79 L381.00 35.79 L381.50 35.79 L382.00 35.79 L382.50 35.79 L383.00 35.79 L383.50 35.80 L384.00 35.80 L384.50 35.80 L385.00 35.80 L385.50 35.80 L386.00 35.80 L386.50 35.80 L387.00 35.80 L387.50 35.80 L388.00 35.80 L388.50 35.80 L389.00 35.80 L389.50 35.80 L390.00 35.80 L390.50 35.80 L391.00 35.80 L391.50 35.80 L392.00 35.80 L392.50 35.80 L393.00 35.80 L393.50 35.80 L394.00 35.80 L394.50 35.80 L395.00 35.80 L395.50 35.80 L396.00 35.80 L396.50 35.80 L397.00 35.80 L397.50 35.80 L398.00 35.80 L398.50 35.80 L399.00 35.80 L399.50 35.80 L400.00 35.80 L400.50 35.80 L401.00 35.80 L401.50 35.80 L402.00 35.79 L402.50 35.79 L403.00 35.79 L403.50 35.79 L404.00 35.79 L404.50 35.79 L405.00 35.79 L405.50 35.78 L406.00 35.78 L406.50 35.78 L407.00 35.78 L407.50 35.78 L408.00 35.77 L408.50 35.77 L409.00 35.77 L409.50 35.77 L410.00 35.76 L410.50 35.76 L411.00 35.76 L411.50 35.76 L412.00 35.75 L412.50 35.75 L413.00 35.75 L413.50 35.75 L414.00 35.74 L414.50 35.74 L415.00 35.74 L415.50 35.73 L416.00 35.73 L416.50 35.72 L417.00 35.72 L417.50 35.72 L418.00 35.71 L418.50 35.71 L419.00 35.71 L419.50 35.70 L420.00 35.70 L420.50 35.70 L421.00 35.71 L421.50 35.73 L422.00 35.75 L422.50 35.78 L423.00 35.81 L423.50 35.84 L424.00 35.89 L424.50 35.93 L425.00 35.98 L425.50 36.04 L426.00 36.10 L426.50 36.19 L427.00 36.32 L427.50 36.49 L428.00 36.72 L428.50 36.98 L429.00 37.28 L429.50 37.62 L430.00 38.00 L430.50 38.56 L431.00 39.37 L431.50 40.35 L432.00 41.40" stroke="#f00" stroke-width="1.3" stroke-dasharray="4.7 3"/>
<path d="M31.00 40.54 L31.50 40.56 L32.00 40.58 L32.50 40.59 L33.00 40.61 L33.50 40.63 L34.00 40.64 L34.50 40.66 L35.00 40.68 L35.50 40.69 L36.00 40.71 L36.50 40.72 L37.00 40.73 L37.50 40.75 L38.00 40.76 L38.50 40.78 L39.00 40.79 L39.50 40.80 L40.00 40.81 L40.50 40.83 L41.00 40.84 L41.50 40.85 L42.00 40.86 L42.50 40.87 L43.00 40.88 L43.50 40.89 L44.00 40.91 L44.50 40.92 L45.00 40.93 L45.50 40.94 L46.00 40.95 L46.50 40.95 L47.00 40.96 L47.50 40.97 L48.00 40.98 L48.50 40.99 L49.00 41.00 L49.50 41.01 L50.00 41.02 L50.50 41.03 L51.00 41.03 L51.50 41.04 L52.00 41.05 L52.50 41.06 L53.00 41.07 L53.50 41.07 L54.00 41.08 L54.50 41.09 L55.00 41.10 L55.50 41.10 L56.00 41.11 L56.50 41.12 L57.00 41.12 L57.50 41.13 L58.00 41.14 L58.50 41.15 L59.00 41.15 L59.50 41.16 L60.00 41.17 L60.50 41.17 L61.00 41.18 L61.50 41.19 L62.00 41.19 L62.50 41.20 L63.00 41.21 L63.50 41.21 L64.00 41.22 L64.50 41.23 L65.00 41.24 L65.50 41.24 L66.00 41.25 L66.50 41.26 L67.00 41.27 L67.50 41.27 L68.00 41.28 L68.50 41.29 L69.00 41.30 L69.50 41.30 L70.00 41.31 L70.50 41.32 L71.00 41.33 L71.50 41.34 L72.00 41.34 L72.50 41.35 L73.00 41.36 L73.50 41.37 L74.00 41.38 L74.50 41.39 L75.00 41.40 L75.50 41.41 L76.00 41.42 L76.50 41.43 L77.00 41.44 L77.50 41.45 L78.00 41.46 L78.50 41.47 L79.00 41.48 L79.50 41.49 L80.00 41.51 L80.50 41.52 L81.00 41.53 L81.50 41.54 L82.00 41.55 L82.50 41.57 L83.00 41.58 L83.50 41.59 L84.00 41.61 L84.50 41.62 L85.00 41.64 L85.50 41.65 L86.00 41.67 L86.50 41.68 L87.00 41.70 L87.50 41.71 L88.00 41.73 L88.50 41.75 L89.00 41.76 L89.50 41.78 L90.00 41.80 L90.50 41.82 L91.00 41.84 L91.50 41.85 L92.00 41.87 L92.50 41.89 L93.00 41.91 L93.50 41.93 L94.00 41.96 L94.50 41.98 L95.00 42.00 L95.50 42.02 L96.00 42.04 L96.50 42.07 L97.00 42.09 L97.50 42.12 L98.00 42.14 L98.50 42.16 L99.00 42.19 L99.50 42.22 L100.00 42.24 L100.50 42.27 L101.00 42.30 L101.50 42.33 L102.00 42.35 L102.50 42.38 L103.00 42.41 L103.50 42.44 L104.00 42.47 L104.50 42.51 L105.00 42.54 L105.50 42.57 L106.00 42.60 L106.50 42.64 L107.00 42.67 L107.50 42.71 L108.00 42.74 L108.50 42.78 L109.00 42.81 L109.50 42.85 L110.00 42.89 L110.50 42.93 L111.00 42.97 L111.50 43.01 L112.00 43.05 L112.50 43.09 L113.00 43.13 L113.50 43.17 L114.00 43.22 L114.50 43.26 L115.00 43.31 L115.50 43.35 L116.00 43.40 L116.50 43.44 L117.00 43.49 L117.50 43.54 L118.00 43.59 L118.50 43.64 L119.00 43.69 L119.50 43.74 L120.00 43.79 L120.50 43.84 L121.00 43.90 L121.50 43.95 L122.00 44.01 L122.50 44.06 L123.00 44.12 L123.50 44.17 L124.00 44.23 L124.50 44.29 L125.00 44.35 L125.50 44.41 L126.00 44.47 L126.50 44.54 L127.00 44.60 L127.50 44.66 L128.00 44.73 L128.50 44.79 L129.00 44.86 L129.50 44.93 L130.00 45.00 L130.50 45.06 L131.00 45.13 L131.50 45.21 L132.00 45.28 L132.50 45.35 L133.00 45.42 L133.50 45.50 L134.00 45.57 L134.50 45.65 L135.00 45.73 L135.50 45.81 L136.00 45.89 L136.50 45.97 L137.00 46.05 L137.50 46.13 L138.00 46.21 L138.50 46.30 L139.00 46.38 L139.50 46.47 L140.00 46.56 L140.50 46.65 L141.00 46.74 L141.50 46.83 L142.00 46.92 L142.50 47.01 L143.00 47.10 L143.50 47.20 L144.00 47.29 L144.50 47.39 L145.00 47.49 L145.50 47.59 L146.00 47.69 L146.50 47.79 L147.00 47.89 L147.50 47.99 L148.00 48.10 L148.50 48.20 L149.00 48.31 L149.50 48.42 L150.00 48.53 L150.50 48.64 L151.00 48.75 L151.50 48.86 L152.00 48.97 L152.50 49.09 L153.00 49.20 L153.50 49.32 L154.00 49.44 L154.50 49.56 L155.00 49.68 L155.50 49.80 L156.00 49.92 L156.50 50.05 L157.00 50.17 L157.50 50.30 L158.00 50.43 L158.50 50.55 L159.00 50.68 L159.50 50.81 L160.00 50.94 L160.50 51.08 L161.00 51.21 L161.50 51.35 L162.00 51.48 L162.50 51.62 L163.00 51.76 L163.50 51.90 L164.00 52.04 L164.50 52.18 L165.00 52.32 L165.50 52.47 L166.00 52.61 L166.50 52.76 L167.00 52.90 L167.50 53.05 L168.00 53.20 L168.50 53.35 L169.00 53.50 L169.50 53.66 L170.00 53.81 L170.50 53.97 L171.00 54.12 L171.50 54.28 L172.00 54.44 L172.50 54.60 L173.00 54.76 L173.50 54.92 L174.00 55.08 L174.50 55.24 L175.00 55.41 L175.50 55.57 L176.00 55.74 L176.50 55.91 L177.00 56.08 L177.50 56.25 L178.00 56.42 L178.50 56.59 L179.00 56.77 L179.50 56.94 L180.00 57.12 L180.50 57.29 L181.00 57.47 L181.50 57.65 L182.00 57.83 L182.50 58.01 L183.00 58.19 L183.50 58.37 L184.00 58.56 L184.50 58.74 L185.00 58.93 L185.50 59.12 L186.00 59.31 L186.50 59.50 L187.00 59.69 L187.50 59.88 L188.00 60.07 L188.50 60.26 L189.00 60.46 L189.50 60.65 L190.00 60.85 L190.50 61.05 L191.00 61.25 L191.50 61.45 L192.00 61.65 L192.50 61.85 L193.00 62.05 L193.50 62.26 L194.00 62.46 L194.50 62.67 L195.00 62.88 L195.50 63.09 L196.00 63.30 L196.50 63.51 L197.00 63.72 L197.50 63.93 L198.00 64.14 L198.50 64.36 L199.00 64.57 L199.50 64.79 L200.00 65.01 L200.50 65.23 L201.00 65.45 L201.50 65.67 L202.00 65.89 L202.50 66.11 L203.00 66.34 L203.50 66.56 L204.00 66.79 L204.50 67.01 L205.00 67.24 L205.50 67.47 L206.00 67.70 L206.50 67.93 L207.00 68.16 L207.50 68.40 L208.00 68.63 L208.50 68.87 L209.00 69.10 L209.50 69.34 L210.00 69.58 L210.50 69.82 L211.00 70.06 L211.50 70.30 L212.00 70.54 L212.50 70.78 L213.00 71.03 L213.50 71.27 L214.00 71.52 L214.50 71.76 L215.00 72.01 L215.50 72.25 L216.00 72.49 L216.50 72.74 L217.00 72.98 L217.50 73.23 L218.00 73.47 L218.50 73.71 L219.00 73.95 L219.50 74.19 L220.00 74.43 L220.50 74.67 L221.00 74.91 L221.50 75.14 L222.00 75.37 L222.50 75.60 L223.00 75.83 L223.50 76.06 L224.00 76.28 L224.50 76.51 L225.00 76.73 L225.50 76.94 L226.00 77.16 L226.50 77.37 L227.00 77.58 L227.50 77.79 L228.00 77.99 L228.50 78.19 L229.00 78.38 L229.50 78.57 L230.00 78.76 L230.50 78.95 L231.00 79.13 L231.50 79.30 L232.00 79.48 L232.50 79.64 L233.00 79.81 L233.50 79.97 L234.00 80.13 L234.50 80.28 L235.00 80.44 L235.50 80.58 L236.00 80.73 L236.50 80.87 L237.00 81.01 L237.50 81.15 L238.00 81.29 L238.50 81.42 L239.00 81.55 L239.50 81.68 L240.00 81.81 L240.50 81.93 L241.00 82.06 L241.50 82.18 L242.00 82.30 L242.50 82.42 L243.00 82.54 L243.50 82.66 L244.00 82.78 L244.50 82.89 L245.00 83.01 L245.50 83.12 L246.00 83.24 L246.50 83.35 L247.00 83.46 L247.50 83.57 L248.00 83.68 L248.50 83.79 L249.00 83.89 L249.50 83.99 L250.00 84.09 L250.50 84.19 L251.00 84.28 L251.50 84.36 L252.00 84.45 L252.50 84.52 L253.00 84.60 L253.50 84.66 L254.00 84.72 L254.50 84.78 L255.00 84.83 L255.50 84.87 L256.00 84.91 L256.50 84.94 L257.00 84.96 L257.50 84.98 L258.00 84.98 L258.50 84.98 L259.00 84.97 L259.50 84.96 L260.00 84.94 L260.50 84.91 L261.00 84.88 L261.50 84.84 L262.00 84.80 L262.50 84.75 L263.00 84.69 L263.50 84.64 L264.00 84.58 L264.50 84.51 L265.00 84.44 L265.50 84.37 L266.00 84.30 L266.50 84.22 L267.00 84.14 L267.50 84.06 L268.00 83.98 L268.50 83.90 L269.00 83.81 L269.50 83.73 L270.00 83.64 L270.50 83.56 L271.00 83.48 L271.50 83.39 L272.00 83.31 L272.50 83.23 L273.00 83.15 L273.50 83.07 L274.00 82.99 L274.50 82.91 L275.00 82.83 L275.50 82.75 L276.00 82.68 L276.50 82.60 L277.00 82.53 L277.50 82.45 L278.00 82.38 L278.50 82.31 L279.00 82.24 L279.50 82.16 L280.00 82.09 L280.50 82.02 L281.00 81.96 L281.50 81.89 L282.00 81.82 L282.50 81.75 L283.00 81.69 L283.50 81.62 L284.00 81.56 L284.50 81.49 L285.00 81.43 L285.50 81.37 L286.00 81.31 L286.50 81.25 L287.00 81.19 L287.50 81.13 L288.00 81.07 L288.50 81.01 L289.00 80.95 L289.50 80.90 L290.00 80.84 L290.50 80.79 L291.00 80.73 L291.50 80.68 L292.00 80.62 L292.50 80.57 L293.00 80.52 L293.50 80.47 L294.00 80.42 L294.50 80.37 L295.00 80.32 L295.50 80.27 L296.00 80.22 L296.50 80.17 L297.00 80.13 L297.50 80.08 L298.00 80.04 L298.50 79.99 L299.00 79.95 L299.50 79.91 L300.00 79.86 L300.50 79.82 L301.00 79.78 L301.50 79.74 L302.00 79.70 L302.50 79.66 L303.00 79.62 L303.50 79.58 L304.00 79.54 L304.50 79.51 L305.00 79.47 L305.50 79.43 L306.00 79.40 L306.50 79.36 L307.00 79.33 L307.50 79.30 L308.00 79.26 L308.50 79.23 L309.00 79.20 L309.50 79.17 L310.00 79.14 L310.50 79.11 L311.00 79.08 L311.50 79.05 L312.00 79.02 L312.50 78.99 L313.00 78.97 L313.50 78.94 L314.00 78.91 L314.50 78.89 L315.00 78.86 L315.50 78.84 L316.00 78.82 L316.50 78.79 L317.00 78.77 L317.50 78.75 L318.00 78.73 L318.50 78.70 L319.00 78.68 L319.50 78.66 L320.00 78.64 L320.50 78.62 L321.00 78.61 L321.50 78.59 L322.00 78.57 L322.50 78.55 L323.00 78.54 L323.50 78.52 L324.00 78.50 L324.50 78.49 L325.00 78.47 L325.50 78.46 L326.00 78.45 L326.50 78.43 L327.00 78.42 L327.50 78.41 L328.00 78.39 L328.50 78.38 L329.00 78.37 L329.50 78.36 L330.00 78.35 L330.50 78.34 L331.00 78.33 L331.50 78.32 L332.00 78.31 L332.50 78.30 L333.00 78.29 L333.50 78.29 L334.00 78.28 L334.50 78.27 L335.00 78.27 L335.50 78.26 L336.00 78.25 L336.50 78.25 L337.00 78.24 L337.50 78.24 L338.00 78.23 L338.50 78.23 L339.00 78.23 L339.50 78.22 L340.00 78.22 L340.50 78.22 L341.00 78.21 L341.50 78.21 L342.00 78.21 L342.50 78.21 L343.00 78.21 L343.50 78.21 L344.00 78.21 L344.50 78.21 L345.00 78.21 L345.50 78.21 L346.00 78.21 L346.50 78.21 L347.00 78.21 L347.50 78.21 L348.00 78.21 L348.50 78.21 L349.00 78.21 L349.50 78.22 L350.00 78.22 L350.50 78.22 L351.00 78.22 L351.50 78.23 L352.00 78.23 L352.50 78.23 L353.00 78.24 L353.50 78.24 L354.00 78.25 L354.50 78.25 L355.00 78.26 L355.50 78.26 L356.00 78.27 L356.50 78.27 L357.00 78.28 L357.50 78.28 L358.00 78.29 L358.50 78.29 L359.00 78.30 L359.50 78.31 L360.00 78.31 L360.50 78.32 L361.00 78.32 L361.50 78.33 L362.00 78.34 L362.50 78.35 L363.00 78.35 L363.50 78.36 L364.00 78.37 L364.50 78.37 L365.00 78.38 L365.50 78.39 L366.00 78.40 L366.50 78.41 L367.00 78.41 L367.50 78.42 L368.00 78.43 L368.50 78.44 L369.00 78.45 L369.50 78.45 L370.00 78.46 L370.50 78.47 L371.00 78.48 L371.50 78.49 L372.00 78.50 L372.50 78.50 L373.00 78.51 L373.50 78.52 L374.00 78.53 L374.50 78.54 L375.00 78.55 L375.50 78.56 L376.00 78.57 L376.50 78.57 L377.00 78.58 L377.50 78.59 L378.00 78.60 L378.50 78.61 L379.00 78.62 L379.50 78.63 L380.00 78.64 L380.50 78.64 L381.00 78.65 L381.50 78.66 L382.00 78.67 L382.50 78.68 L383.00 78.69 L383.50 78.69 L384.00 78.70 L384.50 78.71 L385.00 78.72 L385.50 78.73 L386.00 78.74 L386.50 78.74 L387.00 78.75 L387.50 78.76 L388.00 78.77 L388.50 78.77 L389.00 78.78 L389.50 78.79 L390.00 78.80 L390.50 78.80 L391.00 78.81 L391.50 78.82 L392.00 78.82 L392.50 78.83 L393.00 78.84 L393.50 78.84 L394.00 78.85 L394.50 78.85 L395.00 78.86 L395.50 78.87 L396.00 78.87 L396.50 78.88 L397.00 78.88 L397.50 78.89 L398.00 78.89 L398.50 78.90 L399.00 78.90 L399.50 78.90 L400.00 78.91 L400.50 78.91 L401.00 78.91 L401.50 78.92 L402.00 78.92 L402.50 78.92 L403.00 78.93 L403.50 78.93 L404.00 78.93 L404.50 78.93 L405.00 78.93 L405.50 78.94 L406.00 78.94 L406.50 78.94 L407.00 78.94 L407.50 78.94 L408.00 78.94 L408.50 78.94 L409.00 78.94 L409.50 78.94 L410.00 78.94 L410.50 78.93 L411.00 78.93 L411.50 78.93 L412.00 78.93 L412.50 78.93 L413.00 78.92 L413.50 78.92 L414.00 78.92 L414.50 78.91 L415.00 78.91 L415.50 78.90 L416.00 78.90 L416.50 78.89 L417.00 78.89 L417.50 78.88 L418.00 78.87 L418.50 78.87 L419.00 78.86 L419.50 78.85 L420.00 78.84 L420.50 78.84 L421.00 78.83 L421.50 78.82 L422.00 78.81 L422.50 78.80 L423.00 78.79 L423.50 78.78 L424.00 78.77 L424.50 78.75 L425.00 78.74 L425.50 78.73 L426.00 78.72 L426.50 78.70 L427.00 78.69 L427.50 78.68 L428.00 78.66 L428.50 78.65 L429.00 78.63 L429.50 78.61 L430.00 78.60 L430.50 78.58 L431.00 78.56 L431.50 78.55 L432.00 78.53 L432.50 78.51 L432.70 78.50" stroke="#00f" stroke-width="1.3" stroke-dasharray="6.9 2.65"/>
</g>
<path d="M31.00 149.76 h4.50 M31.00 143.30 h8.80 M31.00 136.84 h4.50 M31.00 130.38 h4.50 M31.00 123.92 h4.50 M31.00 117.46 h4.50 M31.00 111.00 h4.50 M31.00 104.54 h4.50 M31.00 98.08 h4.50 M31.00 91.62 h4.50 M31.00 85.16 h4.50 M31.00 78.70 h8.80 M31.00 72.24 h4.50 M31.00 65.78 h4.50 M31.00 59.32 h4.50 M31.00 52.86 h4.50 M31.00 46.40 h4.50 M31.00 39.94 h4.50 M31.00 33.48 h4.50 M31.00 27.02 h4.50 M31.00 20.56 h4.50 M31.00 14.10 h8.80 M31.00 7.64 h4.50 M62.80 156.20 v-4.50 M81.40 156.20 v-4.50 M94.59 156.20 v-4.50 M104.83 156.20 v-4.50 M113.19 156.20 v-4.50 M120.26 156.20 v-4.50 M126.39 156.20 v-4.50 M131.79 156.20 v-4.50 M136.62 156.20 v-8.80 M168.42 156.20 v-4.50 M187.02 156.20 v-4.50 M200.22 156.20 v-4.50 M210.45 156.20 v-4.50 M218.82 156.20 v-4.50 M225.89 156.20 v-4.50 M232.01 156.20 v-4.50 M237.42 156.20 v-4.50 M242.25 156.20 v-8.80 M274.05 156.20 v-4.50 M292.65 156.20 v-4.50 M305.84 156.20 v-4.50 M316.08 156.20 v-4.50 M324.44 156.20 v-4.50 M331.51 156.20 v-4.50 M337.64 156.20 v-4.50 M343.04 156.20 v-4.50 M347.88 156.20 v-8.80 M379.67 156.20 v-4.50 M398.27 156.20 v-4.50 M411.47 156.20 v-4.50 M421.70 156.20 v-4.50 M430.07 156.20 v-4.50 M437.14 156.20 v-4.50 M443.26 156.20 v-4.50 M448.67 156.20 v-4.50 " stroke="#000" stroke-width="1.1" fill="none"/>
<rect x="31.0" y="1.3" width="422.5" height="154.89999999999998" fill="none" stroke="#000" stroke-width="1.1"/>
<g clip-path="url(#cb)" fill="none" stroke-linejoin="round">
<path d="M30.97 296.18 L31.48 296.18 L31.98 296.18 L32.49 296.18 L32.99 296.18 L33.50 296.18 L34.00 296.18 L34.50 296.19 L35.01 296.19 L35.51 296.19 L36.02 296.19 L36.52 296.19 L37.03 296.19 L37.53 296.19 L38.03 296.19 L38.54 296.19 L39.04 296.19 L39.55 296.19 L40.05 296.19 L40.55 296.19 L41.06 296.19 L41.56 296.19 L42.07 296.19 L42.57 296.19 L43.08 296.19 L43.58 296.19 L44.08 296.19 L44.59 296.20 L45.09 296.20 L45.60 296.20 L46.10 296.20 L46.60 296.20 L47.11 296.20 L47.61 296.20 L48.12 296.20 L48.62 296.20 L49.12 296.20 L49.63 296.20 L50.13 296.20 L50.64 296.20 L51.14 296.20 L51.64 296.20 L52.15 296.20 L52.65 296.20 L53.16 296.20 L53.66 296.20 L54.16 296.20 L54.67 296.20 L55.17 296.20 L55.68 296.20 L56.18 296.20 L56.68 296.20 L57.19 296.20 L57.69 296.20 L58.20 296.20 L58.70 296.21 L59.20 296.21 L59.71 296.21 L60.21 296.21 L60.72 296.21 L61.22 296.21 L61.72 296.21 L62.23 296.21 L62.73 296.21 L63.23 296.21 L63.74 296.21 L64.24 296.21 L64.75 296.21 L65.25 296.21 L65.75 296.21 L66.26 296.21 L66.76 296.21 L67.26 296.21 L67.77 296.21 L68.27 296.21 L68.78 296.21 L69.28 296.21 L69.78 296.21 L70.29 296.21 L70.79 296.21 L71.29 296.21 L71.80 296.21 L72.30 296.21 L72.81 296.21 L73.31 296.21 L73.81 296.21 L74.32 296.21 L74.82 296.21 L75.32 296.21 L75.83 296.21 L76.33 296.21 L76.84 296.21 L77.34 296.21 L77.84 296.21 L78.35 296.21 L78.85 296.21 L79.35 296.21 L79.86 296.21 L80.36 296.21 L80.86 296.21 L81.37 296.21 L81.87 296.21 L82.38 296.21 L82.88 296.21 L83.38 296.21 L83.89 296.21 L84.39 296.21 L84.89 296.21 L85.40 296.21 L85.90 296.21 L86.40 296.21 L86.91 296.21 L87.41 296.21 L87.91 296.21 L88.42 296.21 L88.92 296.21 L89.43 296.21 L89.93 296.21 L90.43 296.21 L90.94 296.21 L91.44 296.21 L91.94 296.21 L92.45 296.21 L92.95 296.21 L93.45 296.21 L93.96 296.21 L94.46 296.21 L94.96 296.21 L95.47 296.21 L95.97 296.21 L96.47 296.21 L96.98 296.21 L97.48 296.21 L97.98 296.21 L98.49 296.21 L98.99 296.21 L99.49 296.21 L100.00 296.21 L100.50 296.21 L101.01 296.21 L101.51 296.21 L102.01 296.21 L102.52 296.21 L103.02 296.21 L103.52 296.21 L104.03 296.21 L104.53 296.21 L105.03 296.21 L105.54 296.21 L106.04 296.21 L106.54 296.21 L107.05 296.21 L107.55 296.21 L108.05 296.21 L108.56 296.21 L109.06 296.21 L109.56 296.21 L110.07 296.21 L110.57 296.21 L111.07 296.21 L111.58 296.21 L112.08 296.21 L112.58 296.21 L113.09 296.21 L113.59 296.21 L114.09 296.21 L114.60 296.21 L115.10 296.21 L115.60 296.21 L116.11 296.21 L116.61 296.21 L117.11 296.21 L117.62 296.21 L118.12 296.21 L118.62 296.21 L119.13 296.21 L119.63 296.21 L120.13 296.21 L120.64 296.21 L121.14 296.21 L121.64 296.21 L122.15 296.21 L122.65 296.21 L123.15 296.21 L123.66 296.21 L124.16 296.21 L124.66 296.21 L125.17 296.21 L125.67 296.21 L126.17 296.21 L126.68 296.21 L127.18 296.21 L127.68 296.21 L128.19 296.21 L128.69 296.21 L129.19 296.21 L129.70 296.21 L130.20 296.20 L130.70 296.20 L131.21 296.20 L131.71 296.20 L132.21 296.20 L132.72 296.20 L133.22 296.20 L133.72 296.20 L134.23 296.20 L134.73 296.20 L135.23 296.20 L135.74 296.20 L136.24 296.20 L136.74 296.20 L137.24 296.20 L137.75 296.20 L138.25 296.20 L138.75 296.20 L139.26 296.20 L139.76 296.20 L140.26 296.20 L140.77 296.20 L141.27 296.20 L141.77 296.20 L142.28 296.20 L142.78 296.20 L143.28 296.20 L143.79 296.20 L144.29 296.20 L144.79 296.20 L145.30 296.20 L145.80 296.20 L146.30 296.20 L146.81 296.20 L147.31 296.20 L147.81 296.20 L148.32 296.20 L148.82 296.20 L149.32 296.20 L149.83 296.20 L150.33 296.20 L150.83 296.20 L151.34 296.20 L151.84 296.20 L152.34 296.20 L152.85 296.20 L153.35 296.20 L153.85 296.20 L154.36 296.20 L154.86 296.20 L155.36 296.20 L155.86 296.20 L156.37 296.20 L156.87 296.19 L157.37 296.19 L157.88 296.19 L158.38 296.19 L158.88 296.19 L159.39 296.19 L159.89 296.19 L160.39 296.19 L160.90 296.19 L161.40 296.19 L161.90 296.19 L162.41 296.19 L162.91 296.19 L163.41 296.19 L163.92 296.19 L164.42 296.19 L164.92 296.19 L165.43 296.19 L165.93 296.19 L166.43 296.19 L166.94 296.19 L167.44 296.19 L167.94 296.19 L168.45 296.19 L168.95 296.19 L169.45 296.19 L169.96 296.19 L170.46 296.19 L170.96 296.19 L171.47 296.19 L171.97 296.19 L172.47 296.19 L172.98 296.19 L173.48 296.19 L173.98 296.19 L174.49 296.19 L174.99 296.19 L175.49 296.19 L176.00 296.19 L176.50 296.19 L177.00 296.19 L177.50 296.19 L178.01 296.19 L178.51 296.19 L179.01 296.19 L179.52 296.19 L180.02 296.19 L180.52 296.19 L181.03 296.19 L181.53 296.19 L182.03 296.19 L182.54 296.19 L183.04 296.19 L183.54 296.19 L184.05 296.19 L184.55 296.19 L185.05 296.19 L185.56 296.19 L186.06 296.19 L186.56 296.19 L187.07 296.19 L187.57 296.19 L188.07 296.19 L188.58 296.19 L189.08 296.19 L189.58 296.19 L190.09 296.19 L190.59 296.19 L191.09 296.19 L191.60 296.19 L192.10 296.19 L192.60 296.19 L193.11 296.19 L193.61 296.19 L194.11 296.19 L194.62 296.19 L195.12 296.19 L195.62 296.19 L196.13 296.19 L196.63 296.19 L197.13 296.19 L197.64 296.19 L198.14 296.19 L198.65 296.19 L199.15 296.19 L199.65 296.19 L200.16 296.19 L200.66 296.19 L201.16 296.19 L201.67 296.19 L202.17 296.19 L202.67 296.19 L203.18 296.19 L203.68 296.19 L204.18 296.19 L204.69 296.19 L205.19 296.19 L205.69 296.19 L206.20 296.19 L206.70 296.19 L207.20 296.19 L207.71 296.19 L208.21 296.19 L208.71 296.19 L209.22 296.19 L209.72 296.19 L210.22 296.19 L210.73 296.19 L211.23 296.19 L211.73 296.19 L212.24 296.19 L212.74 296.19 L213.25 296.19 L213.75 296.19 L214.25 296.19 L214.76 296.19 L215.26 296.19 L215.76 296.19 L216.27 296.19 L216.77 296.19 L217.27 296.19 L217.78 296.19 L218.28 296.19 L218.78 296.19 L219.29 296.19 L219.79 296.19 L220.30 296.19 L220.80 296.19 L221.30 296.19 L221.81 296.19 L222.31 296.19 L222.81 296.19 L223.32 296.19 L223.82 296.19 L224.32 296.19 L224.83 296.19 L225.33 296.19 L225.84 296.19 L226.34 296.19 L226.84 296.19 L227.35 296.19 L227.85 296.19 L228.35 296.19 L228.86 296.19 L229.36 296.19 L229.86 296.19 L230.37 296.19 L230.87 296.19 L231.38 296.19 L231.88 296.19 L232.38 296.19 L232.89 296.19 L233.39 296.19 L233.89 296.19 L234.40 296.19 L234.90 296.20 L235.41 296.20 L235.91 296.20 L236.41 296.20 L236.92 296.20 L237.42 296.20 L237.92 296.20 L238.43 296.20 L238.93 296.20 L239.44 296.20 L239.94 296.20 L240.44 296.20 L240.95 296.20 L241.45 296.20 L241.95 296.20 L242.46 296.20 L242.96 296.20 L243.47 296.20 L243.97 296.20 L244.47 296.20 L244.98 296.20 L245.48 296.20 L245.99 296.20 L246.49 296.20 L246.99 296.20 L247.50 296.20 L248.00 296.21 L248.51 296.21 L249.01 296.21 L249.51 296.21 L250.02 296.21 L250.52 296.21 L251.03 296.21 L251.53 296.21 L252.03 296.21 L252.54 296.21 L253.04 296.21 L253.55 296.21 L254.05 296.21 L254.55 296.21 L255.06 296.21 L255.56 296.21 L256.07 296.21 L256.57 296.21 L257.07 296.21 L257.58 296.22 L258.08 296.22 L258.59 296.22 L259.09 296.22 L259.59 296.22 L260.10 296.22 L260.60 296.22 L261.11 296.22 L261.61 296.22 L262.11 296.22 L262.62 296.22 L263.12 296.22 L263.63 296.22 L264.13 296.22 L264.64 296.22 L265.14 296.22 L265.64 296.22 L266.15 296.22 L266.65 296.22 L267.16 296.23 L267.66 296.23 L268.16 296.23 L268.67 296.23 L269.17 296.23 L269.68 296.23 L270.18 296.23 L270.69 296.23 L271.19 296.22 L271.69 296.22 L272.20 296.22 L272.70 296.22 L273.21 296.22 L273.71 296.22 L274.21 296.22 L274.72 296.22 L275.22 296.22 L275.73 296.22 L276.23 296.22 L276.74 296.22 L277.24 296.21 L277.74 296.21 L278.25 296.21 L278.75 296.21 L279.26 296.21 L279.76 296.20 L280.26 296.20 L280.77 296.20 L281.27 296.20 L281.78 296.19 L282.28 296.19 L282.78 296.19 L283.29 296.18 L283.79 296.18 L284.30 296.18 L284.80 296.17 L285.30 296.17 L285.81 296.16 L286.31 296.16 L286.82 296.15 L287.32 296.15 L287.82 296.14 L288.33 296.14 L288.83 296.13 L289.34 296.13 L289.84 296.12 L290.34 296.11 L290.85 296.11 L291.35 296.10 L291.86 296.09 L292.36 296.09 L292.86 296.08 L293.37 296.07 L293.87 296.06 L294.37 296.06 L294.88 296.05 L295.38 296.04 L295.88 296.03 L296.39 296.02 L296.89 296.01 L297.40 296.00 L297.90 295.99 L298.40 295.98 L298.91 295.97 L299.41 295.96 L299.91 295.95 L300.42 295.93 L300.92 295.92 L301.42 295.91 L301.93 295.90 L302.43 295.88 L302.93 295.87 L303.44 295.86 L303.94 295.84 L304.44 295.83 L304.95 295.81 L305.45 295.80 L305.95 295.78 L306.46 295.77 L306.96 295.75 L307.46 295.74 L307.96 295.72 L308.47 295.70 L308.97 295.69 L309.47 295.67 L309.98 295.65 L310.48 295.63 L310.98 295.61 L311.49 295.59 L311.99 295.57 L312.49 295.55 L312.99 295.53 L313.50 295.51 L314.00 295.49 L314.50 295.47 L315.00 295.45 L315.51 295.42 L316.01 295.40 L316.51 295.38 L317.01 295.35 L317.52 295.33 L318.02 295.30 L318.52 295.28 L319.02 295.25 L319.52 295.23 L320.03 295.20 L320.53 295.17 L321.03 295.14 L321.53 295.12 L322.04 295.09 L322.54 295.06 L323.04 295.03 L323.54 295.00 L324.04 294.97 L324.54 294.94 L325.05 294.91 L325.55 294.87 L326.05 294.84 L326.55 294.81 L327.05 294.78 L327.55 294.74 L328.06 294.71 L328.56 294.67 L329.06 294.64 L329.56 294.60 L330.06 294.56 L330.56 294.53 L331.06 294.49 L331.57 294.45 L332.07 294.41 L332.57 294.37 L333.07 294.33 L333.57 294.29 L334.07 294.25 L334.57 294.21 L335.07 294.17 L335.57 294.12 L336.07 294.08 L336.57 294.04 L337.07 293.99 L337.58 293.95 L338.08 293.90 L338.58 293.86 L339.08 293.81 L339.58 293.76 L340.08 293.71 L340.58 293.66 L341.08 293.62 L341.58 293.57 L342.08 293.51 L342.58 293.46 L343.08 293.41 L343.58 293.36 L344.08 293.31 L344.58 293.25 L345.08 293.20 L345.58 293.14 L346.08 293.09 L346.58 293.03 L347.07 292.97 L347.57 292.92 L348.07 292.86 L348.57 292.80 L349.07 292.74 L349.57 292.68 L350.07 292.62 L350.57 292.56 L351.07 292.49 L351.57 292.43 L352.07 292.37 L352.56 292.30 L353.06 292.24 L353.56 292.17 L354.06 292.10 L354.56 292.04 L355.06 291.97 L355.56 291.90 L356.05 291.83 L356.55 291.76 L357.05 291.69 L357.55 291.61 L358.05 291.54 L358.54 291.47 L359.04 291.39 L359.54 291.32 L360.04 291.24 L360.53 291.17 L361.03 291.09 L361.53 291.01 L362.03 290.93 L362.52 290.85 L363.02 290.77 L363.52 290.69 L364.02 290.61 L364.51 290.53 L365.01 290.44 L365.51 290.36 L366.00 290.27 L366.50 290.19 L367.00 290.10 L367.49 290.01 L367.99 289.92 L368.49 289.83 L368.98 289.74 L369.48 289.65 L369.98 289.56 L370.47 289.47 L370.97 289.38 L371.46 289.28 L371.96 289.19 L372.46 289.09 L372.95 288.99 L373.45 288.89 L373.94 288.80 L374.44 288.70 L374.93 288.60 L375.43 288.49 L375.92 288.39 L376.42 288.29 L376.91 288.18 L377.41 288.08 L377.90 287.97 L378.40 287.87 L378.89 287.76 L379.39 287.65 L379.88 287.54 L380.38 287.43 L380.87 287.32 L381.37 287.21 L381.86 287.09 L382.35 286.98 L382.85 286.86 L383.34 286.75 L383.84 286.63 L384.33 286.51 L384.82 286.39 L385.32 286.27 L385.81 286.15 L386.30 286.03 L386.80 285.91 L387.29 285.79 L387.78 285.66 L388.28 285.53 L388.77 285.41 L389.26 285.28 L389.75 285.15 L390.25 285.02 L390.74 284.89 L391.23 284.76 L391.72 284.63 L392.22 284.49 L392.71 284.36 L393.20 284.22 L393.69 284.08 L394.18 283.94 L394.67 283.80 L395.16 283.66 L395.65 283.52 L396.14 283.37 L396.62 283.22 L397.11 283.07 L397.59 282.92 L398.07 282.76 L398.55 282.60 L399.03 282.44 L399.51 282.28 L399.98 282.11 L400.46 281.94 L400.93 281.76 L401.39 281.59 L401.86 281.41 L402.32 281.22 L402.78 281.03 L403.24 280.84 L403.70 280.64 L404.15 280.44 L404.60 280.23 L405.04 280.02 L405.48 279.81 L405.92 279.59 L406.35 279.36 L406.79 279.13 L407.21 278.90 L407.63 278.66 L408.05 278.41 L408.47 278.16 L408.88 277.90 L409.28 277.64 L409.68 277.37 L410.08 277.10 L410.47 276.82 L410.86 276.53 L411.24 276.23 L411.61 275.93 L411.98 275.63 L412.35 275.31 L412.71 274.99 L413.06 274.66 L413.41 274.33 L413.76 273.99 L414.10 273.65 L414.43 273.29 L414.76 272.94 L415.08 272.57 L415.40 272.20 L415.71 271.83 L416.02 271.45 L416.32 271.06 L416.61 270.67 L416.90 270.27 L417.19 269.87 L417.47 269.46 L417.74 269.05 L418.01 268.63 L418.27 268.20 L418.53 267.78 L418.79 267.35 L419.03 266.91 L419.28 266.47 L419.52 266.02 L419.75 265.57 L419.98 265.12 L420.20 264.66 L420.42 264.20 L420.64 263.74 L420.85 263.27 L421.06 262.81 L421.26 262.33 L421.46 261.86 L421.65 261.38 L421.84 260.90 L422.03 260.41 L422.21 259.93 L422.39 259.44 L422.57 258.95 L422.74 258.46 L422.91 257.97 L423.07 257.47 L423.23 256.97 L423.39 256.48 L423.54 255.98 L423.69 255.48 L423.84 254.98 L423.98 254.48 L424.13 253.97 L424.26 253.47 L424.40 252.97 L424.53 252.46 L424.66 251.96 L424.79 251.46 L424.91 250.95 L425.04 250.45 L425.16 249.95 L425.27 249.45 L425.39 248.94 L425.50 248.44 L425.61 247.94 L425.72 247.44 L425.82 246.93 L425.92 246.43 L426.03 245.93 L426.12 245.43 L426.22 244.93 L426.31 244.42 L426.41 243.92 L426.50 243.42 L426.59 242.92 L426.67 242.42 L426.76 241.92 L426.84 241.42 L426.92 240.92 L427.00 240.42 L427.08 239.92 L427.15 239.42 L427.23 238.92 L427.30 238.42 L427.37 237.92 L427.44 237.42 L427.51 236.92 L427.57 236.42 L427.64 235.92 L427.70 235.42 L427.77 234.92 L427.83 234.42 L427.89 233.92 L427.95 233.42 L428.00 232.92 L428.06 232.42 L428.12 231.93 L428.17 231.43 L428.22 230.93 L428.28 230.43 L428.33 229.93 L428.38 229.43 L428.43 228.94 L428.48 228.44 L428.53 227.94 L428.58 227.44 L428.62 226.94 L428.67 226.45 L428.72 225.95 L428.76 225.45 L428.81 224.96 L428.85 224.46 L428.90 223.96 L428.94 223.46 L428.98 222.97 L429.03 222.47 L429.07 221.98 L429.11 221.48 L429.16 220.98 L429.20 220.49 L429.24 219.99 L429.29 219.49 L429.33 219.00 L429.37 218.50 L429.41 218.01 L429.46 217.51 L429.50 217.02 L429.54 216.52 L429.59 216.02 L429.63 215.53 L429.68 215.03 L429.72 214.54 L429.77 214.04 L429.81 213.55 L429.86 213.05 L429.91 212.56 L429.95 212.06 L430.00 211.57 L430.05 211.08" stroke="#00f" stroke-width="1.2" stroke-dasharray="1.35 2.52"/>
<path d="M30.99 197.16 L31.63 197.17 L32.27 197.19 L32.91 197.20 L33.54 197.21 L34.18 197.23 L34.82 197.24 L35.46 197.25 L36.10 197.26 L36.73 197.27 L37.37 197.28 L38.01 197.29 L38.65 197.30 L39.29 197.31 L39.92 197.32 L40.56 197.33 L41.20 197.34 L41.84 197.35 L42.48 197.36 L43.11 197.37 L43.75 197.37 L44.39 197.38 L45.03 197.39 L45.66 197.40 L46.30 197.40 L46.94 197.41 L47.58 197.42 L48.22 197.42 L48.85 197.43 L49.49 197.44 L50.13 197.44 L50.77 197.45 L51.40 197.46 L52.04 197.46 L52.68 197.47 L53.31 197.48 L53.95 197.48 L54.59 197.49 L55.23 197.50 L55.86 197.50 L56.50 197.51 L57.14 197.52 L57.78 197.52 L58.41 197.53 L59.05 197.54 L59.69 197.54 L60.32 197.55 L60.96 197.56 L61.60 197.57 L62.23 197.57 L62.87 197.58 L63.51 197.59 L64.14 197.60 L64.78 197.61 L65.42 197.62 L66.05 197.63 L66.69 197.64 L67.33 197.65 L67.96 197.66 L68.60 197.67 L69.24 197.68 L69.87 197.69 L70.51 197.70 L71.14 197.71 L71.78 197.72 L72.42 197.74 L73.05 197.75 L73.69 197.76 L74.32 197.78 L74.96 197.79 L75.60 197.81 L76.23 197.82 L76.87 197.84 L77.50 197.86 L78.14 197.87 L78.77 197.89 L79.41 197.91 L80.05 197.93 L80.68 197.95 L81.32 197.97 L81.95 197.99 L82.59 198.01 L83.22 198.03 L83.86 198.05 L84.49 198.08 L85.13 198.10 L85.76 198.12 L86.40 198.15 L87.03 198.18 L87.67 198.20 L88.30 198.23 L88.94 198.26 L89.57 198.29 L90.20 198.32 L90.84 198.35 L91.47 198.38 L92.11 198.41 L92.74 198.44 L93.38 198.48 L94.01 198.51 L94.64 198.55 L95.28 198.59 L95.91 198.62 L96.55 198.66 L97.18 198.70 L97.81 198.74 L98.45 198.78 L99.08 198.83 L99.71 198.87 L100.35 198.91 L100.98 198.96 L101.61 199.01 L102.25 199.05 L102.88 199.10 L103.51 199.15 L104.15 199.20 L104.78 199.25 L105.41 199.31 L106.04 199.36 L106.68 199.42 L107.31 199.47 L107.94 199.53 L108.57 199.59 L109.21 199.65 L109.84 199.71 L110.47 199.77 L111.10 199.84 L111.73 199.90 L112.37 199.97 L113.00 200.04 L113.63 200.11 L114.26 200.18 L114.89 200.25 L115.52 200.32 L116.16 200.40 L116.79 200.47 L117.42 200.55 L118.05 200.63 L118.68 200.71 L119.31 200.79 L119.94 200.87 L120.57 200.96 L121.20 201.04 L121.83 201.13 L122.46 201.22 L123.09 201.31 L123.72 201.40 L124.36 201.49 L124.99 201.59 L125.62 201.68 L126.25 201.78 L126.88 201.88 L127.50 201.98 L128.13 202.09 L128.76 202.19 L129.39 202.30 L130.02 202.40 L130.65 202.51 L131.28 202.62 L131.91 202.74 L132.54 202.85 L133.17 202.97 L133.80 203.09 L134.43 203.21 L135.05 203.33 L135.68 203.45 L136.31 203.58 L136.94 203.70 L137.57 203.83 L138.20 203.96 L138.82 204.10 L139.45 204.23 L140.08 204.37 L140.71 204.50 L141.33 204.65 L141.96 204.79 L142.59 204.93 L143.21 205.08 L143.84 205.23 L144.47 205.38 L145.09 205.53 L145.72 205.68 L146.34 205.84 L146.97 206.00 L147.59 206.16 L148.21 206.33 L148.83 206.49 L149.45 206.66 L150.07 206.84 L150.69 207.01 L151.31 207.19 L151.93 207.37 L152.54 207.55 L153.16 207.74 L153.77 207.92 L154.39 208.11 L155.00 208.31 L155.61 208.51 L156.22 208.71 L156.83 208.91 L157.43 209.11 L158.04 209.32 L158.64 209.54 L159.24 209.75 L159.84 209.97 L160.44 210.19 L161.04 210.42 L161.64 210.64 L162.23 210.88 L162.82 211.11 L163.41 211.35 L164.00 211.59 L164.58 211.84 L165.17 212.09 L165.75 212.34 L166.33 212.60 L166.91 212.86 L167.48 213.12 L168.06 213.39 L168.63 213.67 L169.20 213.94 L169.76 214.22 L170.33 214.51 L170.89 214.79 L171.45 215.09 L172.00 215.38 L172.55 215.68 L173.11 215.99 L173.65 216.30 L174.20 216.61 L174.74 216.93 L175.28 217.25 L175.82 217.58 L176.35 217.91 L176.88 218.24 L177.41 218.58 L177.93 218.93 L178.45 219.28 L178.97 219.63 L179.49 219.99 L180.00 220.36 L180.51 220.72 L181.01 221.10 L181.51 221.48 L182.01 221.86 L182.50 222.25 L183.00 222.64 L183.48 223.04 L183.97 223.44 L184.45 223.84 L184.93 224.25 L185.40 224.67 L185.87 225.09 L186.34 225.51 L186.80 225.94 L187.27 226.37 L187.72 226.81 L188.18 227.25 L188.63 227.69 L189.08 228.14 L189.52 228.59 L189.96 229.05 L190.40 229.51 L190.84 229.97 L191.27 230.44 L191.70 230.91 L192.12 231.38 L192.54 231.86 L192.96 232.34 L193.38 232.82 L193.79 233.31 L194.20 233.80 L194.61 234.30 L195.01 234.79 L195.41 235.29 L195.81 235.80 L196.20 236.30 L196.59 236.81 L196.98 237.33 L197.36 237.84 L197.74 238.36 L198.12 238.88 L198.49 239.40 L198.87 239.93 L199.23 240.46 L199.60 240.99 L199.96 241.52 L200.32 242.06 L200.68 242.60 L201.03 243.14 L201.38 243.68 L201.73 244.23 L202.07 244.77 L202.41 245.32 L202.75 245.87 L203.09 246.43 L203.42 246.98 L203.75 247.54 L204.07 248.10 L204.40 248.66 L204.72 249.22 L205.04 249.79 L205.35 250.35 L205.66 250.92 L205.97 251.49 L206.28 252.06 L206.58 252.63 L206.88 253.20 L207.18 253.77 L207.47 254.35 L207.76 254.93 L208.05 255.50 L208.33 256.08 L208.62 256.66 L208.90 257.24 L209.17 257.82 L209.45 258.40 L209.72 258.99 L209.99 259.57 L210.25 260.15 L210.52 260.74 L210.78 261.32 L211.03 261.91 L211.29 262.49 L211.54 263.08 L211.79 263.67 L212.03 264.26 L212.28 264.84 L212.52 265.43 L212.76 266.02 L212.99 266.61 L213.23 267.20 L213.46 267.80 L213.69 268.39 L213.91 268.98 L214.14 269.57 L214.36 270.17 L214.57 270.76 L214.79 271.36 L215.00 271.95 L215.22 272.55 L215.43 273.14 L215.63 273.74 L215.84 274.34 L216.04 274.94 L216.24 275.54 L216.44 276.14 L216.63 276.74 L216.83 277.34 L217.02 277.94 L217.21 278.54 L217.39 279.14 L217.58 279.75 L217.76 280.35 L217.94 280.95 L218.12 281.56 L218.30 282.16 L218.47 282.77 L218.65 283.38 L218.82 283.98 L218.99 284.59 L219.16 285.20 L219.32 285.81 L219.49 286.42 L219.65 287.03 L219.81 287.64 L219.97 288.25 L220.12 288.87 L220.28 289.48 L220.43 290.09 L220.58 290.71 L220.73 291.32 L220.88 291.94 L221.03 292.55 L221.18 293.17 L221.32 293.79 L221.46 294.41 L221.60 295.03 L221.74 295.65 L221.88 296.27 L222.02 296.89 L222.15 297.51 L222.29 298.13 L222.42 298.75 L222.55 299.38 L222.68 300.00 L222.81 300.62 L222.94 301.25 L223.07 301.87 L223.19 302.50 L223.32 303.13 L223.44 303.75 L223.57 304.38 L223.69 305.01 L223.81 305.64 L223.94 306.27 L224.06 306.90 L224.18 307.53 L224.30 308.16 L224.42 308.79 L224.54 309.42 L224.66 310.05 L224.78 310.68 L224.90 311.31 L225.02 311.95 L225.14 312.58 L225.26 313.21 L225.39 313.85 L225.51 314.48 L225.63 315.12 L225.75 315.75 L225.87 316.39 L225.99 317.02 L226.12 317.66 L226.24 318.29 L226.37 318.93 L226.49 319.56 L226.62 320.20 L226.75 320.84 L226.88 321.47 L227.02 322.10 L227.18 322.72 L227.36 323.33 L227.55 323.93 L227.76 324.52 L228.01 325.10 L228.28 325.62 L228.58 326.01 L228.93 326.18 L229.31 326.07 L229.70 325.74 L230.08 325.27 L230.42 324.74 L230.71 324.18 L230.96 323.59 L231.17 322.99 L231.35 322.36 L231.49 321.72 L231.62 321.07 L231.71 320.40 L231.80 319.73 L231.87 319.05 L231.94 318.37 L232.00 317.69 L232.06 317.01 L232.13 316.34 L232.21 315.68 L232.31 315.02 L232.42 314.38 L232.54 313.75 L232.68 313.12 L232.83 312.50 L232.98 311.89 L233.15 311.28 L233.32 310.68 L233.50 310.08 L233.68 309.48 L233.87 308.89 L234.06 308.30 L234.26 307.71 L234.45 307.12 L234.65 306.52 L234.84 305.93 L235.03 305.33 L235.22 304.73 L235.41 304.13 L235.60 303.53 L235.78 302.92 L235.96 302.31 L236.15 301.70 L236.33 301.08 L236.51 300.47 L236.69 299.85 L236.87 299.24 L237.05 298.62 L237.24 298.00 L237.42 297.39 L237.61 296.77 L237.80 296.15 L238.00 295.54 L238.19 294.92 L238.39 294.31 L238.59 293.70 L238.80 293.09 L239.01 292.48 L239.23 291.88 L239.45 291.27 L239.68 290.67 L239.91 290.08 L240.15 289.48 L240.39 288.89 L240.65 288.31 L240.91 287.73 L241.17 287.15 L241.45 286.58 L241.73 286.01 L242.02 285.45 L242.32 284.89 L242.64 284.34 L242.96 283.79 L243.29 283.25 L243.63 282.72 L243.98 282.19 L244.34 281.67 L244.71 281.16 L245.10 280.66 L245.50 280.16 L245.91 279.67 L246.33 279.19 L246.77 278.72 L247.22 278.26 L247.68 277.80 L248.15 277.36 L248.64 276.93 L249.14 276.51 L249.65 276.10 L250.16 275.71 L250.69 275.33 L251.23 274.97 L251.77 274.62 L252.33 274.29 L252.89 273.98 L253.46 273.69 L254.03 273.41 L254.61 273.16 L255.20 272.92 L255.79 272.71 L256.39 272.52 L256.99 272.35 L257.59 272.20 L258.20 272.08 L258.81 271.99 L259.43 271.92 L260.04 271.88 L260.66 271.86 L261.27 271.87 L261.89 271.92 L262.51 271.99 L263.12 272.08 L263.74 272.20 L264.35 272.35 L264.97 272.52 L265.58 272.71 L266.19 272.92 L266.79 273.15 L267.40 273.39 L268.00 273.65 L268.59 273.93 L269.19 274.22 L269.78 274.52 L270.36 274.83 L270.94 275.15 L271.52 275.48 L272.08 275.82 L272.65 276.16 L273.20 276.50 L273.75 276.85 L274.30 277.20 L274.84 277.56 L275.37 277.91 L275.89 278.27 L276.42 278.62 L276.93 278.98 L277.45 279.34 L277.96 279.71 L278.46 280.07 L278.97 280.44 L279.47 280.81 L279.97 281.18 L280.46 281.55 L280.96 281.92 L281.45 282.29 L281.95 282.67 L282.45 283.04 L282.94 283.42 L283.44 283.80 L283.94 284.18 L284.44 284.56 L284.94 284.95 L285.45 285.33 L285.96 285.72 L286.47 286.10 L286.98 286.49 L287.50 286.87 L288.02 287.25 L288.54 287.63 L289.07 288.00 L289.60 288.38 L290.14 288.74 L290.67 289.10 L291.21 289.46 L291.76 289.81 L292.31 290.16 L292.86 290.49 L293.41 290.82 L293.97 291.14 L294.54 291.45 L295.10 291.75 L295.68 292.03 L296.25 292.31 L296.83 292.58 L297.42 292.83 L298.00 293.07 L298.60 293.29 L299.19 293.50 L299.79 293.70 L300.40 293.88 L301.01 294.04 L301.63 294.19 L302.25 294.32 L302.87 294.44 L303.49 294.55 L304.12 294.65 L304.75 294.73 L305.39 294.81 L306.02 294.88 L306.66 294.94 L307.30 295.00 L307.94 295.05 L308.57 295.10 L309.21 295.14 L309.85 295.18 L310.49 295.22 L311.13 295.26 L311.77 295.29 L312.41 295.33 L313.05 295.36 L313.68 295.38 L314.32 295.41 L314.96 295.43 L315.60 295.45 L316.23 295.47 L316.87 295.49 L317.51 295.51 L318.15 295.52 L318.78 295.53 L319.42 295.54 L320.06 295.55 L320.69 295.55 L321.33 295.55 L321.97 295.55 L322.60 295.55 L323.24 295.55 L323.87 295.54 L324.51 295.54 L325.14 295.53 L325.78 295.52 L326.42 295.50 L327.05 295.49 L327.69 295.47 L328.32 295.45 L328.95 295.43 L329.59 295.41 L330.22 295.39 L330.86 295.36 L331.49 295.33 L332.13 295.30 L332.76 295.27 L333.40 295.24 L334.03 295.21 L334.66 295.17 L335.30 295.13 L335.93 295.09 L336.56 295.05 L337.20 295.01 L337.83 294.96 L338.46 294.92 L339.10 294.87 L339.73 294.82 L340.36 294.77 L340.99 294.72 L341.63 294.66 L342.26 294.61 L342.89 294.55 L343.52 294.49 L344.16 294.43 L344.79 294.37 L345.42 294.31 L346.05 294.24 L346.68 294.18 L347.31 294.11 L347.95 294.04 L348.58 293.97 L349.21 293.90 L349.84 293.83 L350.47 293.75 L351.10 293.68 L351.73 293.60 L352.37 293.52 L353.00 293.44 L353.63 293.36 L354.26 293.28 L354.89 293.20 L355.52 293.11 L356.15 293.03 L356.78 292.94 L357.41 292.85 L358.04 292.76 L358.67 292.67 L359.30 292.58 L359.93 292.49 L360.56 292.40 L361.19 292.30 L361.82 292.21 L362.45 292.11 L363.08 292.01 L363.71 291.91 L364.34 291.81 L364.97 291.71 L365.60 291.61 L366.23 291.51 L366.86 291.41 L367.49 291.30 L368.12 291.20 L368.75 291.09 L369.38 290.98 L370.01 290.88 L370.63 290.77 L371.26 290.66 L371.89 290.55 L372.52 290.44 L373.15 290.32 L373.78 290.21 L374.41 290.10 L375.04 289.98 L375.67 289.87 L376.30 289.75 L376.92 289.64 L377.55 289.52 L378.18 289.40 L378.81 289.28 L379.44 289.16 L380.07 289.04 L380.70 288.92 L381.32 288.80 L381.95 288.68 L382.58 288.56 L383.21 288.44 L383.84 288.31 L384.47 288.19 L385.09 288.06 L385.72 287.94 L386.35 287.81 L386.98 287.69 L387.61 287.56 L388.23 287.43 L388.86 287.30 L389.49 287.16 L390.11 287.03 L390.74 286.89 L391.36 286.75 L391.98 286.61 L392.60 286.46 L393.22 286.31 L393.84 286.15 L394.46 286.00 L395.07 285.83 L395.68 285.67 L396.29 285.50 L396.90 285.32 L397.51 285.14 L398.12 284.95 L398.72 284.76 L399.32 284.56 L399.92 284.36 L400.52 284.15 L401.11 283.93 L401.70 283.71 L402.29 283.48 L402.87 283.24 L403.45 283.00 L404.03 282.74 L404.61 282.48 L405.18 282.22 L405.75 281.94 L406.31 281.65 L406.87 281.36 L407.43 281.06 L407.98 280.74 L408.53 280.42 L409.07 280.09 L409.61 279.76 L410.15 279.41 L410.67 279.06 L411.20 278.69 L411.71 278.32 L412.22 277.94 L412.72 277.55 L413.22 277.16 L413.71 276.75 L414.19 276.34 L414.67 275.92 L415.13 275.49 L415.59 275.05 L416.04 274.60 L416.48 274.15 L416.92 273.68 L417.34 273.21 L417.75 272.73 L418.16 272.24 L418.55 271.75 L418.94 271.24 L419.31 270.73 L419.68 270.21 L420.03 269.69 L420.37 269.15 L420.70 268.61 L421.02 268.06 L421.34 267.50 L421.64 266.93 L421.93 266.36 L422.21 265.79 L422.49 265.21 L422.76 264.62 L423.02 264.03 L423.27 263.44 L423.52 262.84 L423.76 262.24 L423.99 261.64 L424.22 261.04 L424.45 260.43 L424.67 259.82 L424.89 259.22 L425.10 258.61 L425.31 258.00 L425.51 257.39 L425.72 256.78 L425.92 256.18 L426.12 255.57 L426.32 254.96 L426.51 254.36 L426.70 253.76 L426.89 253.15 L427.07 252.55 L427.26 251.94 L427.43 251.34 L427.61 250.73 L427.78 250.12 L427.94 249.51 L428.10 248.91 L428.26 248.30 L428.41 247.68 L428.56 247.07 L428.70 246.46 L428.84 245.84 L428.97 245.22 L429.10 244.60 L429.23 243.98 L429.34 243.36 L429.46 242.74 L429.57 242.11 L429.68 241.49 L429.78 240.86 L429.88 240.23 L429.98 239.60 L430.07 238.97 L430.16 238.34 L430.24 237.71 L430.32 237.08 L430.40 236.44 L430.48 235.81 L430.55 235.17 L430.62 234.54 L430.68 233.90 L430.75 233.26 L430.81 232.63 L430.87 231.99 L430.92 231.35 L430.98 230.71 L431.03 230.07 L431.08 229.43 L431.13 228.79 L431.17 228.15 L431.22 227.51 L431.26 226.87 L431.30 226.23 L431.34 225.59 L431.38 224.95 L431.42 224.31 L431.45 223.67 L431.49 223.04 L431.52 222.40 L431.56 221.76 L431.59 221.12 L431.62 220.48 L431.65 219.84 L431.68 219.21 L431.72 218.57 L431.75 217.94 L431.78 217.30 L431.81 216.67 L431.84 216.03 L431.87 215.40 L431.90 214.77 L431.93 214.14 L431.97 213.51 L432.00 212.88 L432.03 212.25 L432.07 211.63 L432.10 211.00" stroke="#008b00" stroke-width="1.25"/>
<path d="M31.00 201.77 L31.53 201.79 L32.07 201.81 L32.60 201.82 L33.14 201.84 L33.67 201.86 L34.21 201.88 L34.75 201.89 L35.28 201.91 L35.82 201.92 L36.35 201.94 L36.89 201.95 L37.42 201.97 L37.96 201.98 L38.50 201.99 L39.03 202.01 L39.57 202.02 L40.10 202.03 L40.64 202.05 L41.18 202.06 L41.71 202.07 L42.25 202.08 L42.79 202.10 L43.32 202.11 L43.86 202.12 L44.39 202.13 L44.93 202.14 L45.47 202.15 L46.00 202.16 L46.54 202.17 L47.08 202.18 L47.61 202.19 L48.15 202.20 L48.69 202.21 L49.22 202.22 L49.76 202.23 L50.30 202.24 L50.83 202.25 L51.37 202.26 L51.91 202.27 L52.44 202.27 L52.98 202.28 L53.52 202.29 L54.05 202.30 L54.59 202.31 L55.13 202.32 L55.66 202.32 L56.20 202.33 L56.74 202.34 L57.27 202.35 L57.81 202.36 L58.35 202.36 L58.89 202.37 L59.42 202.38 L59.96 202.39 L60.50 202.40 L61.03 202.40 L61.57 202.41 L62.11 202.42 L62.64 202.43 L63.18 202.44 L63.72 202.44 L64.25 202.45 L64.79 202.46 L65.33 202.47 L65.87 202.48 L66.40 202.48 L66.94 202.49 L67.48 202.50 L68.01 202.51 L68.55 202.52 L69.09 202.53 L69.62 202.54 L70.16 202.55 L70.70 202.56 L71.23 202.57 L71.77 202.57 L72.31 202.58 L72.85 202.59 L73.38 202.60 L73.92 202.61 L74.46 202.63 L74.99 202.64 L75.53 202.65 L76.07 202.66 L76.60 202.67 L77.14 202.68 L77.68 202.69 L78.21 202.70 L78.75 202.72 L79.29 202.73 L79.82 202.74 L80.36 202.76 L80.90 202.77 L81.43 202.78 L81.97 202.80 L82.51 202.81 L83.04 202.83 L83.58 202.84 L84.12 202.86 L84.65 202.87 L85.19 202.89 L85.72 202.90 L86.26 202.92 L86.80 202.94 L87.33 202.95 L87.87 202.97 L88.41 202.99 L88.94 203.01 L89.48 203.03 L90.01 203.05 L90.55 203.06 L91.09 203.08 L91.62 203.11 L92.16 203.13 L92.69 203.15 L93.23 203.17 L93.77 203.19 L94.30 203.21 L94.84 203.24 L95.37 203.26 L95.91 203.29 L96.44 203.31 L96.98 203.33 L97.52 203.36 L98.05 203.39 L98.59 203.41 L99.12 203.44 L99.66 203.47 L100.19 203.50 L100.73 203.53 L101.26 203.55 L101.80 203.58 L102.33 203.62 L102.87 203.65 L103.40 203.68 L103.94 203.71 L104.47 203.74 L105.01 203.78 L105.54 203.81 L106.08 203.85 L106.61 203.88 L107.15 203.92 L107.68 203.95 L108.21 203.99 L108.75 204.03 L109.28 204.07 L109.82 204.11 L110.35 204.15 L110.89 204.19 L111.42 204.23 L111.95 204.27 L112.49 204.31 L113.02 204.36 L113.55 204.40 L114.09 204.45 L114.62 204.49 L115.16 204.54 L115.69 204.58 L116.22 204.63 L116.76 204.68 L117.29 204.73 L117.82 204.78 L118.35 204.83 L118.89 204.88 L119.42 204.94 L119.95 204.99 L120.49 205.04 L121.02 205.10 L121.55 205.16 L122.08 205.21 L122.62 205.27 L123.15 205.33 L123.68 205.39 L124.21 205.45 L124.74 205.51 L125.28 205.57 L125.81 205.63 L126.34 205.70 L126.87 205.76 L127.40 205.83 L127.94 205.89 L128.47 205.96 L129.00 206.03 L129.53 206.10 L130.06 206.17 L130.59 206.24 L131.12 206.31 L131.65 206.39 L132.18 206.46 L132.71 206.54 L133.24 206.61 L133.77 206.69 L134.31 206.77 L134.84 206.85 L135.37 206.93 L135.90 207.01 L136.43 207.09 L136.96 207.17 L137.48 207.26 L138.01 207.34 L138.54 207.43 L139.07 207.52 L139.60 207.61 L140.13 207.70 L140.66 207.79 L141.19 207.88 L141.72 207.97 L142.25 208.07 L142.78 208.16 L143.30 208.26 L143.83 208.36 L144.36 208.45 L144.89 208.55 L145.42 208.66 L145.94 208.76 L146.47 208.86 L147.00 208.97 L147.53 209.07 L148.05 209.18 L148.58 209.29 L149.11 209.40 L149.64 209.51 L150.16 209.62 L150.69 209.73 L151.22 209.85 L151.74 209.96 L152.27 210.08 L152.79 210.20 L153.32 210.32 L153.85 210.44 L154.37 210.56 L154.90 210.68 L155.42 210.81 L155.95 210.94 L156.47 211.06 L156.99 211.19 L157.52 211.32 L158.04 211.46 L158.56 211.59 L159.08 211.73 L159.61 211.86 L160.13 212.00 L160.65 212.14 L161.17 212.29 L161.69 212.43 L162.21 212.57 L162.73 212.72 L163.24 212.87 L163.76 213.02 L164.28 213.17 L164.80 213.33 L165.31 213.48 L165.83 213.64 L166.34 213.80 L166.85 213.96 L167.37 214.12 L167.88 214.29 L168.39 214.45 L168.90 214.62 L169.41 214.79 L169.92 214.97 L170.43 215.14 L170.94 215.32 L171.44 215.50 L171.95 215.68 L172.46 215.86 L172.96 216.04 L173.46 216.23 L173.97 216.42 L174.47 216.61 L174.97 216.80 L175.47 217.00 L175.97 217.19 L176.46 217.39 L176.96 217.60 L177.45 217.80 L177.95 218.01 L178.44 218.21 L178.93 218.43 L179.42 218.64 L179.91 218.85 L180.40 219.07 L180.89 219.29 L181.38 219.51 L181.86 219.74 L182.35 219.97 L182.83 220.20 L183.31 220.43 L183.79 220.66 L184.27 220.90 L184.75 221.14 L185.22 221.38 L185.70 221.62 L186.17 221.87 L186.64 222.12 L187.12 222.37 L187.59 222.62 L188.06 222.87 L188.52 223.13 L188.99 223.39 L189.46 223.65 L189.92 223.92 L190.38 224.18 L190.85 224.45 L191.31 224.72 L191.77 224.99 L192.22 225.27 L192.68 225.54 L193.14 225.82 L193.59 226.10 L194.04 226.38 L194.49 226.67 L194.95 226.96 L195.39 227.24 L195.84 227.54 L196.29 227.83 L196.74 228.12 L197.18 228.42 L197.62 228.72 L198.06 229.02 L198.51 229.32 L198.94 229.63 L199.38 229.94 L199.82 230.24 L200.25 230.55 L200.69 230.87 L201.12 231.18 L201.55 231.50 L201.98 231.82 L202.41 232.14 L202.84 232.46 L203.27 232.78 L203.69 233.11 L204.12 233.44 L204.54 233.77 L204.96 234.10 L205.38 234.43 L205.80 234.77 L206.22 235.10 L206.63 235.44 L207.05 235.78 L207.46 236.12 L207.87 236.47 L208.29 236.81 L208.69 237.16 L209.10 237.51 L209.51 237.86 L209.92 238.21 L210.32 238.56 L210.72 238.92 L211.13 239.27 L211.53 239.63 L211.93 239.99 L212.32 240.36 L212.72 240.72 L213.11 241.08 L213.51 241.45 L213.90 241.82 L214.29 242.19 L214.68 242.56 L215.07 242.93 L215.46 243.31 L215.84 243.68 L216.23 244.06 L216.61 244.44 L216.99 244.82 L217.37 245.20 L217.75 245.58 L218.13 245.97 L218.51 246.35 L218.88 246.74 L219.26 247.13 L219.63 247.52 L220.00 247.91 L220.37 248.31 L220.74 248.70 L221.11 249.10 L221.47 249.49 L221.84 249.89 L222.20 250.29 L222.56 250.69 L222.92 251.09 L223.28 251.49 L223.64 251.90 L224.00 252.30 L224.36 252.70 L224.72 253.11 L225.07 253.51 L225.43 253.92 L225.79 254.32 L226.14 254.72 L226.50 255.13 L226.86 255.53 L227.22 255.93 L227.58 256.33 L227.94 256.73 L228.30 257.13 L228.66 257.53 L229.02 257.93 L229.38 258.32 L229.75 258.71 L230.11 259.10 L230.48 259.49 L230.85 259.88 L231.22 260.27 L231.59 260.65 L231.97 261.03 L232.34 261.41 L232.72 261.78 L233.10 262.15 L233.49 262.52 L233.87 262.89 L234.26 263.25 L234.65 263.61 L235.05 263.96 L235.44 264.31 L235.85 264.66 L236.25 265.00 L236.66 265.34 L237.07 265.68 L237.48 266.01 L237.90 266.33 L238.32 266.66 L238.75 266.97 L239.18 267.28 L239.61 267.59 L240.05 267.89 L240.49 268.19 L240.94 268.49 L241.38 268.78 L241.84 269.06 L242.29 269.35 L242.75 269.63 L243.21 269.90 L243.67 270.18 L244.13 270.45 L244.60 270.72 L245.06 270.98 L245.53 271.25 L246.00 271.51 L246.48 271.77 L246.95 272.03 L247.43 272.29 L247.90 272.55 L248.38 272.80 L248.85 273.06 L249.33 273.31 L249.81 273.57 L250.29 273.82 L250.77 274.07 L251.24 274.33 L251.72 274.58 L252.20 274.84 L252.68 275.10 L253.15 275.35 L253.63 275.61 L254.10 275.87 L254.58 276.12 L255.05 276.38 L255.53 276.64 L256.00 276.90 L256.48 277.16 L256.95 277.42 L257.42 277.68 L257.90 277.94 L258.37 278.20 L258.84 278.45 L259.32 278.71 L259.79 278.97 L260.26 279.23 L260.73 279.49 L261.21 279.75 L261.68 280.01 L262.15 280.27 L262.62 280.53 L263.10 280.79 L263.57 281.04 L264.04 281.30 L264.52 281.56 L264.99 281.81 L265.46 282.07 L265.93 282.33 L266.41 282.58 L266.88 282.84 L267.36 283.09 L267.83 283.34 L268.30 283.60 L268.78 283.85 L269.25 284.10 L269.73 284.35 L270.20 284.60 L270.68 284.85 L271.15 285.09 L271.63 285.34 L272.11 285.59 L272.59 285.83 L273.06 286.08 L273.54 286.32 L274.02 286.56 L274.50 286.80 L274.98 287.04 L275.46 287.28 L275.94 287.51 L276.42 287.75 L276.90 287.98 L277.39 288.21 L277.87 288.44 L278.35 288.67 L278.84 288.90 L279.32 289.13 L279.81 289.35 L280.30 289.58 L280.79 289.80 L281.27 290.02 L281.76 290.23 L282.25 290.45 L282.75 290.66 L283.24 290.87 L283.73 291.08 L284.22 291.29 L284.72 291.49 L285.21 291.69 L285.71 291.88 L286.21 292.07 L286.71 292.26 L287.21 292.45 L287.71 292.63 L288.21 292.81 L288.71 292.98 L289.22 293.15 L289.72 293.31 L290.23 293.47 L290.74 293.62 L291.25 293.77 L291.76 293.92 L292.27 294.06 L292.78 294.19 L293.30 294.32 L293.81 294.44 L294.33 294.56 L294.85 294.67 L295.37 294.78 L295.89 294.88 L296.41 294.97 L296.94 295.06 L297.46 295.14 L297.99 295.22 L298.51 295.30 L299.04 295.37 L299.57 295.43 L300.10 295.49 L300.63 295.55 L301.16 295.60 L301.70 295.65 L302.23 295.69 L302.77 295.73 L303.30 295.76 L303.84 295.80 L304.37 295.83 L304.91 295.85 L305.45 295.87 L305.99 295.89 L306.52 295.91 L307.06 295.92 L307.60 295.93 L308.14 295.94 L308.68 295.95 L309.22 295.95 L309.77 295.95 L310.31 295.95 L310.85 295.95 L311.39 295.94 L311.93 295.94 L312.47 295.93 L313.01 295.92 L313.56 295.91 L314.10 295.90 L314.64 295.89 L315.18 295.88 L315.72 295.86 L316.26 295.85 L316.80 295.84 L317.34 295.82 L317.88 295.80 L318.42 295.79 L318.96 295.77 L319.50 295.75 L320.04 295.74 L320.58 295.72 L321.12 295.70 L321.66 295.68 L322.20 295.66 L322.74 295.63 L323.28 295.61 L323.81 295.59 L324.35 295.57 L324.89 295.54 L325.43 295.52 L325.97 295.49 L326.50 295.47 L327.04 295.44 L327.58 295.41 L328.12 295.39 L328.65 295.36 L329.19 295.33 L329.73 295.30 L330.26 295.27 L330.80 295.24 L331.33 295.20 L331.87 295.17 L332.41 295.14 L332.94 295.10 L333.48 295.07 L334.01 295.03 L334.55 295.00 L335.08 294.96 L335.62 294.92 L336.15 294.89 L336.69 294.85 L337.22 294.81 L337.75 294.77 L338.29 294.73 L338.82 294.69 L339.36 294.64 L339.89 294.60 L340.42 294.56 L340.96 294.51 L341.49 294.47 L342.02 294.42 L342.56 294.38 L343.09 294.33 L343.62 294.28 L344.16 294.23 L344.69 294.18 L345.22 294.13 L345.75 294.08 L346.28 294.03 L346.82 293.98 L347.35 293.93 L347.88 293.87 L348.41 293.82 L348.94 293.76 L349.48 293.71 L350.01 293.65 L350.54 293.59 L351.07 293.54 L351.60 293.48 L352.13 293.42 L352.66 293.36 L353.19 293.30 L353.72 293.24 L354.25 293.17 L354.78 293.11 L355.31 293.05 L355.85 292.98 L356.38 292.91 L356.91 292.85 L357.44 292.78 L357.97 292.71 L358.49 292.64 L359.02 292.58 L359.55 292.50 L360.08 292.43 L360.61 292.36 L361.14 292.29 L361.67 292.22 L362.20 292.14 L362.73 292.07 L363.26 291.99 L363.79 291.91 L364.32 291.84 L364.85 291.76 L365.37 291.68 L365.90 291.60 L366.43 291.52 L366.96 291.44 L367.49 291.36 L368.02 291.27 L368.55 291.19 L369.07 291.11 L369.60 291.02 L370.13 290.93 L370.66 290.85 L371.19 290.76 L371.71 290.67 L372.24 290.58 L372.77 290.49 L373.30 290.40 L373.83 290.31 L374.35 290.21 L374.88 290.12 L375.41 290.03 L375.94 289.93 L376.46 289.83 L376.99 289.74 L377.52 289.64 L378.05 289.54 L378.57 289.44 L379.10 289.34 L379.63 289.24 L380.16 289.14 L380.68 289.03 L381.21 288.93 L381.74 288.82 L382.26 288.72 L382.79 288.61 L383.32 288.50 L383.85 288.40 L384.37 288.29 L384.90 288.18 L385.43 288.07 L385.95 287.95 L386.48 287.84 L387.01 287.73 L387.53 287.61 L388.06 287.49 L388.59 287.38 L389.11 287.26 L389.64 287.13 L390.16 287.01 L390.69 286.89 L391.21 286.76 L391.74 286.63 L392.26 286.50 L392.79 286.37 L393.31 286.23 L393.83 286.09 L394.35 285.95 L394.87 285.81 L395.39 285.66 L395.91 285.52 L396.43 285.36 L396.95 285.21 L397.47 285.05 L397.99 284.89 L398.50 284.73 L399.02 284.56 L399.53 284.39 L400.05 284.22 L400.56 284.04 L401.07 283.86 L401.58 283.68 L402.09 283.49 L402.59 283.30 L403.10 283.10 L403.60 282.90 L404.10 282.69 L404.60 282.48 L405.09 282.26 L405.58 282.04 L406.07 281.81 L406.55 281.58 L407.03 281.34 L407.50 281.09 L407.97 280.84 L408.44 280.58 L408.90 280.32 L409.36 280.05 L409.81 279.77 L410.26 279.49 L410.70 279.20 L411.13 278.90 L411.56 278.59 L411.98 278.28 L412.40 277.95 L412.81 277.63 L413.21 277.29 L413.61 276.95 L414.00 276.60 L414.38 276.24 L414.76 275.88 L415.14 275.51 L415.51 275.13 L415.87 274.75 L416.22 274.36 L416.57 273.97 L416.92 273.57 L417.26 273.16 L417.59 272.75 L417.92 272.34 L418.25 271.92 L418.56 271.49 L418.88 271.06 L419.18 270.62 L419.49 270.18 L419.78 269.74 L420.08 269.29 L420.36 268.84 L420.64 268.38 L420.92 267.92 L421.19 267.45 L421.46 266.98 L421.72 266.51 L421.98 266.04 L422.23 265.56 L422.48 265.08 L422.72 264.59 L422.96 264.10 L423.20 263.61 L423.42 263.12 L423.65 262.63 L423.87 262.13 L424.09 261.63 L424.30 261.13 L424.51 260.63 L424.71 260.12 L424.91 259.62 L425.11 259.11 L425.30 258.60 L425.48 258.09 L425.67 257.58 L425.85 257.07 L426.02 256.55 L426.19 256.04 L426.36 255.53 L426.53 255.01 L426.69 254.50 L426.84 253.98 L427.00 253.47 L427.15 252.95 L427.29 252.43 L427.44 251.92 L427.58 251.40 L427.71 250.88 L427.85 250.36 L427.98 249.84 L428.10 249.32 L428.23 248.80 L428.35 248.27 L428.46 247.75 L428.58 247.23 L428.69 246.70 L428.80 246.18 L428.90 245.66 L429.01 245.13 L429.11 244.60 L429.20 244.08 L429.30 243.55 L429.39 243.03 L429.48 242.50 L429.57 241.97 L429.65 241.44 L429.74 240.91 L429.82 240.39 L429.90 239.86 L429.97 239.33 L430.05 238.80 L430.12 238.27 L430.19 237.74 L430.25 237.21 L430.32 236.67 L430.38 236.14 L430.44 235.61 L430.50 235.08 L430.56 234.55 L430.62 234.01 L430.67 233.48 L430.73 232.95 L430.78 232.41 L430.83 231.88 L430.88 231.35 L430.92 230.81 L430.97 230.28 L431.01 229.74 L431.06 229.21 L431.10 228.67 L431.14 228.14 L431.18 227.60 L431.22 227.07 L431.25 226.53 L431.29 226.00 L431.33 225.46 L431.36 224.93 L431.39 224.39 L431.43 223.86 L431.46 223.32 L431.49 222.78 L431.52 222.25 L431.55 221.71 L431.58 221.18 L431.61 220.64 L431.64 220.10 L431.67 219.57 L431.70 219.03 L431.73 218.50 L431.75 217.96 L431.78 217.43 L431.81 216.89 L431.84 216.35 L431.86 215.82 L431.89 215.28 L431.92 214.75 L431.95 214.21 L431.97 213.68 L432.00 213.14 L432.03 212.61 L432.06 212.07 L432.09 211.54 L432.12 211.00" stroke="#00f" stroke-width="1.25" stroke-dasharray="4.7 3"/>
</g>
<path d="M31.00 327.83 h4.50 M453.50 327.83 h-4.50 M31.00 319.84 h4.50 M453.50 319.84 h-4.50 M31.00 314.17 h4.50 M453.50 314.17 h-4.50 M31.00 309.77 h4.50 M453.50 309.77 h-4.50 M31.00 306.17 h4.50 M453.50 306.17 h-4.50 M31.00 303.13 h4.50 M453.50 303.13 h-4.50 M31.00 300.50 h4.50 M453.50 300.50 h-4.50 M31.00 298.18 h4.50 M453.50 298.18 h-4.50 M31.00 296.10 h8.80 M453.50 296.10 h-8.80 M31.00 282.43 h4.50 M453.50 282.43 h-4.50 M31.00 274.44 h4.50 M453.50 274.44 h-4.50 M31.00 268.77 h4.50 M453.50 268.77 h-4.50 M31.00 264.37 h4.50 M453.50 264.37 h-4.50 M31.00 260.77 h4.50 M453.50 260.77 h-4.50 M31.00 257.73 h4.50 M453.50 257.73 h-4.50 M31.00 255.10 h4.50 M453.50 255.10 h-4.50 M31.00 252.78 h4.50 M453.50 252.78 h-4.50 M31.00 250.70 h8.80 M453.50 250.70 h-8.80 M31.00 237.03 h4.50 M453.50 237.03 h-4.50 M31.00 229.04 h4.50 M453.50 229.04 h-4.50 M31.00 223.37 h4.50 M453.50 223.37 h-4.50 M31.00 218.97 h4.50 M453.50 218.97 h-4.50 M31.00 215.37 h4.50 M453.50 215.37 h-4.50 M31.00 212.33 h4.50 M453.50 212.33 h-4.50 M31.00 209.70 h4.50 M453.50 209.70 h-4.50 M31.00 207.38 h4.50 M453.50 207.38 h-4.50 M31.00 205.30 h8.80 M453.50 205.30 h-8.80 M31.00 191.63 h4.50 M453.50 191.63 h-4.50 M62.80 341.50 v-4.50 M81.40 341.50 v-4.50 M94.59 341.50 v-4.50 M104.83 341.50 v-4.50 M113.19 341.50 v-4.50 M120.26 341.50 v-4.50 M126.39 341.50 v-4.50 M131.79 341.50 v-4.50 M136.62 341.50 v-8.80 M168.42 341.50 v-4.50 M187.02 341.50 v-4.50 M200.22 341.50 v-4.50 M210.45 341.50 v-4.50 M218.82 341.50 v-4.50 M225.89 341.50 v-4.50 M232.01 341.50 v-4.50 M237.42 341.50 v-4.50 M242.25 341.50 v-8.80 M274.05 341.50 v-4.50 M292.65 341.50 v-4.50 M305.84 341.50 v-4.50 M316.08 341.50 v-4.50 M324.44 341.50 v-4.50 M331.51 341.50 v-4.50 M337.64 341.50 v-4.50 M343.04 341.50 v-4.50 M347.88 341.50 v-8.80 M379.67 341.50 v-4.50 M398.27 341.50 v-4.50 M411.47 341.50 v-4.50 M421.70 341.50 v-4.50 M430.07 341.50 v-4.50 M437.14 341.50 v-4.50 M443.26 341.50 v-4.50 M448.67 341.50 v-4.50 " stroke="#000" stroke-width="1.1" fill="none"/>
<rect x="31.0" y="187.3" width="422.5" height="154.2" fill="none" stroke="#000" stroke-width="1.1"/>
<rect x="349.4" y="99.1" width="64.1" height="49.7" fill="#fff" stroke="#000" stroke-width="1.1"/>
<path d="M354.5 108.9 H371.1" stroke="#000" stroke-width="1.3"/>
<path d="M354.5 124.3 H371.1" stroke="#f00" stroke-width="1.3" stroke-dasharray="4.7 3"/>
<path d="M354.5 139 H371.1" stroke="#00f" stroke-width="1.3" stroke-dasharray="6.9 2.65"/>
<rect x="290" y="197.6" width="120" height="33.1" fill="#fff" stroke="#000" stroke-width="1.1"/>
<path d="M294.8 206.9 H311.7" stroke="#008b00" stroke-width="1.25"/>
<path d="M294.8 220.9 H311.7" stroke="#00f" stroke-width="1.25" stroke-dasharray="4.7 3"/>
<g font-family="Liberation Serif, serif" fill="#111" stroke="#111" stroke-width="0.2" font-size="11.6" style="filter:grayscale(1)">
<text x="26.9" y="17.6" text-anchor="end">1</text>
<text x="26.9" y="82.2" text-anchor="end">0</text>
<text x="26.9" y="146.8" text-anchor="end">-1</text>
<text x="31.3" y="168.4" text-anchor="middle">0.01</text>
<text x="31.3" y="354.5" text-anchor="middle">0.01</text>
<text x="136.9" y="168.4" text-anchor="middle">0.1</text>
<text x="136.9" y="354.5" text-anchor="middle">0.1</text>
<text x="242.6" y="168.4" text-anchor="middle">1</text>
<text x="242.6" y="354.5" text-anchor="middle">1</text>
<text x="348.2" y="168.4" text-anchor="middle">10</text>
<text x="348.2" y="354.5" text-anchor="middle">10</text>
<text x="453.8" y="168.4" text-anchor="middle">100</text>
<text x="453.8" y="354.5" text-anchor="middle">100</text>
<text x="26.9" y="209.3" text-anchor="end">1</text>
<text x="26.9" y="254.7" text-anchor="end">0.1</text>
<text x="26.9" y="300.1" text-anchor="end">0.01</text>
<text x="26.9" y="345.5" text-anchor="end">0.001</text>
<text x="242" y="366.9" text-anchor="middle" font-size="11.9">efold</text>
<g font-size="11.9">
<text x="380" y="112">d<tspan dx="0.4">χ</tspan><tspan dx="0.7">/dn</tspan></text>
<text x="380" y="126.8">d<tspan dx="0.2">φ</tspan><tspan dx="0.3">/dn</tspan></text>
<text x="380" y="141.5">d<tspan dx="0.3">ψ</tspan><tspan dx="0.5">/dn</tspan></text>
<text x="320.7" y="210.2">ε (Einstein frame)</text>
<text x="320.7" y="224.4">ε (Jordan frame)</text>
</g></g>
</svg>
</body></html>
